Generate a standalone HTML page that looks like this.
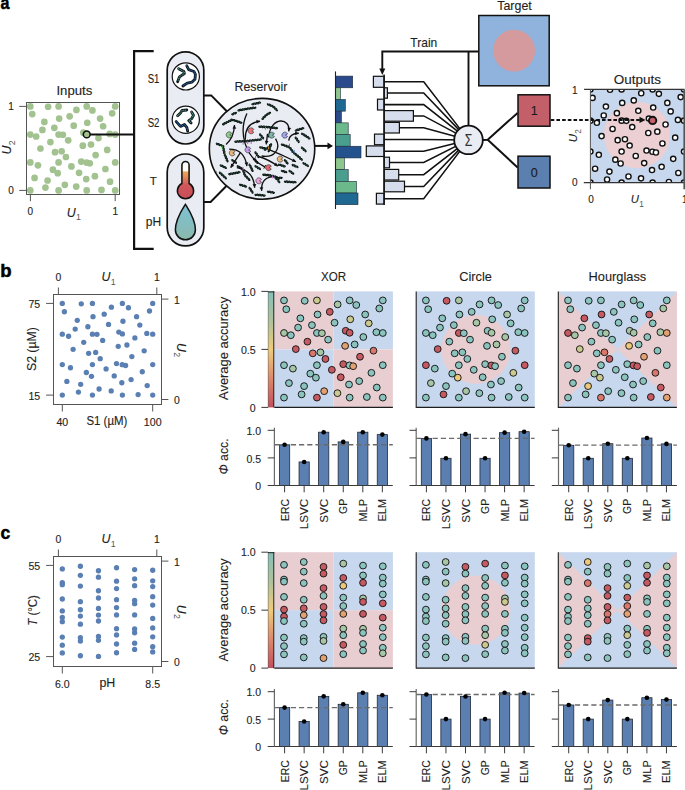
<!DOCTYPE html>
<html><head><meta charset="utf-8"><style>
html,body{margin:0;padding:0;background:#fff;}
svg{display:block;font-family:"Liberation Sans", sans-serif;}
text{stroke:#1e1e1e;stroke-width:0.12px;}
</style></head><body>
<svg width="685" height="790" viewBox="0 0 685 790" font-family='"Liberation Sans", sans-serif'>
<rect width="685" height="790" fill="#fff"/>
<text x="0" y="0" font-size="18.5" font-weight="bold" fill="#000" style="stroke:#000;stroke-width:0.5px" transform="translate(0.6,9.4) scale(0.87,1)">a</text>
<text x="0.3" y="277.2" font-size="18.5" font-weight="bold" fill="#000" style="stroke:#000;stroke-width:0.5px">b</text>
<text x="0" y="0" font-size="18.5" font-weight="bold" fill="#000" style="stroke:#000;stroke-width:0.5px" transform="translate(0.5,539.2) scale(0.95,1)">c</text>
<rect x="53.5" y="294.5" width="108" height="110" fill="#fff" stroke="#555" stroke-width="1"/>
<circle cx="62.3" cy="303.4" r="2.65" fill="#5a7fb2" stroke="none" stroke-width="1"/>
<circle cx="81.25" cy="303.78" r="2.65" fill="#5a7fb2" stroke="none" stroke-width="1"/>
<circle cx="92.43" cy="303.4" r="2.65" fill="#5a7fb2" stroke="none" stroke-width="1"/>
<circle cx="122.38" cy="303.4" r="2.65" fill="#5a7fb2" stroke="none" stroke-width="1"/>
<circle cx="152.7" cy="303.4" r="2.65" fill="#5a7fb2" stroke="none" stroke-width="1"/>
<circle cx="111.39" cy="307.2" r="2.65" fill="#5a7fb2" stroke="none" stroke-width="1"/>
<circle cx="128.44" cy="307.77" r="2.65" fill="#5a7fb2" stroke="none" stroke-width="1"/>
<circle cx="64.38" cy="311.75" r="2.65" fill="#5a7fb2" stroke="none" stroke-width="1"/>
<circle cx="149.48" cy="310.99" r="2.65" fill="#5a7fb2" stroke="none" stroke-width="1"/>
<circle cx="104.18" cy="314.22" r="2.65" fill="#5a7fb2" stroke="none" stroke-width="1"/>
<circle cx="93" cy="316.69" r="2.65" fill="#5a7fb2" stroke="none" stroke-width="1"/>
<circle cx="136.59" cy="316.69" r="2.65" fill="#5a7fb2" stroke="none" stroke-width="1"/>
<circle cx="77.27" cy="320.3" r="2.65" fill="#5a7fb2" stroke="none" stroke-width="1"/>
<circle cx="122.95" cy="321.25" r="2.65" fill="#5a7fb2" stroke="none" stroke-width="1"/>
<circle cx="108.54" cy="324.47" r="2.65" fill="#5a7fb2" stroke="none" stroke-width="1"/>
<circle cx="139.81" cy="325.04" r="2.65" fill="#5a7fb2" stroke="none" stroke-width="1"/>
<circle cx="87.88" cy="326.75" r="2.65" fill="#5a7fb2" stroke="none" stroke-width="1"/>
<circle cx="75.19" cy="329.03" r="2.65" fill="#5a7fb2" stroke="none" stroke-width="1"/>
<circle cx="118.78" cy="332.07" r="2.65" fill="#5a7fb2" stroke="none" stroke-width="1"/>
<circle cx="122.38" cy="333.97" r="2.65" fill="#5a7fb2" stroke="none" stroke-width="1"/>
<circle cx="62.3" cy="334.16" r="2.65" fill="#5a7fb2" stroke="none" stroke-width="1"/>
<circle cx="68.55" cy="336.24" r="2.65" fill="#5a7fb2" stroke="none" stroke-width="1"/>
<circle cx="92.43" cy="334.16" r="2.65" fill="#5a7fb2" stroke="none" stroke-width="1"/>
<circle cx="96.98" cy="334.35" r="2.65" fill="#5a7fb2" stroke="none" stroke-width="1"/>
<circle cx="146.82" cy="333.4" r="2.65" fill="#5a7fb2" stroke="none" stroke-width="1"/>
<circle cx="152.7" cy="334.16" r="2.65" fill="#5a7fb2" stroke="none" stroke-width="1"/>
<circle cx="134.89" cy="337.95" r="2.65" fill="#5a7fb2" stroke="none" stroke-width="1"/>
<circle cx="102.67" cy="340.42" r="2.65" fill="#5a7fb2" stroke="none" stroke-width="1"/>
<circle cx="83.72" cy="342.32" r="2.65" fill="#5a7fb2" stroke="none" stroke-width="1"/>
<circle cx="118.21" cy="346.31" r="2.65" fill="#5a7fb2" stroke="none" stroke-width="1"/>
<circle cx="126.93" cy="344.98" r="2.65" fill="#5a7fb2" stroke="none" stroke-width="1"/>
<circle cx="73.1" cy="349.34" r="2.65" fill="#5a7fb2" stroke="none" stroke-width="1"/>
<circle cx="144.17" cy="350.86" r="2.65" fill="#5a7fb2" stroke="none" stroke-width="1"/>
<circle cx="88.64" cy="353.33" r="2.65" fill="#5a7fb2" stroke="none" stroke-width="1"/>
<circle cx="95.66" cy="352.38" r="2.65" fill="#5a7fb2" stroke="none" stroke-width="1"/>
<circle cx="100.2" cy="358.65" r="2.65" fill="#5a7fb2" stroke="none" stroke-width="1"/>
<circle cx="131.85" cy="356.56" r="2.65" fill="#5a7fb2" stroke="none" stroke-width="1"/>
<circle cx="62.3" cy="364.53" r="2.65" fill="#5a7fb2" stroke="none" stroke-width="1"/>
<circle cx="92.43" cy="364.53" r="2.65" fill="#5a7fb2" stroke="none" stroke-width="1"/>
<circle cx="116.5" cy="363.58" r="2.65" fill="#5a7fb2" stroke="none" stroke-width="1"/>
<circle cx="122.19" cy="364.72" r="2.65" fill="#5a7fb2" stroke="none" stroke-width="1"/>
<circle cx="125.6" cy="365.48" r="2.65" fill="#5a7fb2" stroke="none" stroke-width="1"/>
<circle cx="152.7" cy="364.53" r="2.65" fill="#5a7fb2" stroke="none" stroke-width="1"/>
<circle cx="70.45" cy="367.76" r="2.65" fill="#5a7fb2" stroke="none" stroke-width="1"/>
<circle cx="106.08" cy="368.9" r="2.65" fill="#5a7fb2" stroke="none" stroke-width="1"/>
<circle cx="86.37" cy="372.51" r="2.65" fill="#5a7fb2" stroke="none" stroke-width="1"/>
<circle cx="91.49" cy="376.3" r="2.65" fill="#5a7fb2" stroke="none" stroke-width="1"/>
<circle cx="142.28" cy="371.75" r="2.65" fill="#5a7fb2" stroke="none" stroke-width="1"/>
<circle cx="114.23" cy="375.92" r="2.65" fill="#5a7fb2" stroke="none" stroke-width="1"/>
<circle cx="66.85" cy="381.43" r="2.65" fill="#5a7fb2" stroke="none" stroke-width="1"/>
<circle cx="131.09" cy="379.53" r="2.65" fill="#5a7fb2" stroke="none" stroke-width="1"/>
<circle cx="121.81" cy="382.76" r="2.65" fill="#5a7fb2" stroke="none" stroke-width="1"/>
<circle cx="80.68" cy="384.28" r="2.65" fill="#5a7fb2" stroke="none" stroke-width="1"/>
<circle cx="147.2" cy="385.61" r="2.65" fill="#5a7fb2" stroke="none" stroke-width="1"/>
<circle cx="78.41" cy="392.06" r="2.65" fill="#5a7fb2" stroke="none" stroke-width="1"/>
<circle cx="99.07" cy="389.02" r="2.65" fill="#5a7fb2" stroke="none" stroke-width="1"/>
<circle cx="111.2" cy="390.92" r="2.65" fill="#5a7fb2" stroke="none" stroke-width="1"/>
<circle cx="62.3" cy="395.1" r="2.65" fill="#5a7fb2" stroke="none" stroke-width="1"/>
<circle cx="92.43" cy="395.1" r="2.65" fill="#5a7fb2" stroke="none" stroke-width="1"/>
<circle cx="122.38" cy="395.1" r="2.65" fill="#5a7fb2" stroke="none" stroke-width="1"/>
<circle cx="138.11" cy="394.53" r="2.65" fill="#5a7fb2" stroke="none" stroke-width="1"/>
<circle cx="152.7" cy="395.1" r="2.65" fill="#5a7fb2" stroke="none" stroke-width="1"/>
<line x1="58.4" y1="287.5" x2="58.4" y2="294.5" stroke="#555" stroke-width="1"/>
<text x="58.4" y="281.1" font-size="10.4" fill="#1e1e1e" text-anchor="middle">0</text>
<line x1="156.8" y1="287.5" x2="156.8" y2="294.5" stroke="#555" stroke-width="1"/>
<text x="156.8" y="281.1" font-size="10.4" fill="#1e1e1e" text-anchor="middle">1</text>
<g transform="translate(101.6,281.1)"><text x="0" y="0" font-size="12.4" fill="#1e1e1e" font-style="italic">U<tspan font-size="8.8" font-style="normal" fill="#555" style="stroke:none" dx="0.3" dy="3.7">1</tspan></text></g>
<line x1="46.1" y1="303.4" x2="53.5" y2="303.4" stroke="#555" stroke-width="1"/>
<text x="40.2" y="308" font-size="10.6" fill="#1e1e1e" text-anchor="end">75</text>
<line x1="46.1" y1="395.1" x2="53.5" y2="395.1" stroke="#555" stroke-width="1"/>
<text x="40.2" y="399.7" font-size="10.6" fill="#1e1e1e" text-anchor="end">15</text>
<line x1="62.3" y1="404.5" x2="62.3" y2="411.5" stroke="#555" stroke-width="1"/>
<text x="62.3" y="425.5" font-size="10.6" fill="#1e1e1e" text-anchor="middle">40</text>
<line x1="152.7" y1="404.5" x2="152.7" y2="411.5" stroke="#555" stroke-width="1"/>
<text x="152.7" y="425.5" font-size="10.6" fill="#1e1e1e" text-anchor="middle">100</text>
<line x1="161.5" y1="299.1" x2="168.4" y2="299.1" stroke="#555" stroke-width="1"/>
<text x="173.9" y="303.6" font-size="10.4" fill="#1e1e1e">1</text>
<line x1="161.5" y1="399.5" x2="168.4" y2="399.5" stroke="#555" stroke-width="1"/>
<text x="173.9" y="404" font-size="10.4" fill="#1e1e1e">0</text>
<text x="106.9" y="425.4" font-size="12.2" fill="#1e1e1e" text-anchor="middle" textLength="41" lengthAdjust="spacingAndGlyphs">S1 (µM)</text>
<text x="36.1" y="349.1" font-size="12.6" fill="#1e1e1e" text-anchor="middle" textLength="43.8" lengthAdjust="spacingAndGlyphs" transform="rotate(-90 36.1 349.1)">S2 (µM)</text>
<g transform="translate(177.4,343) rotate(90)"><text x="0" y="0" font-size="12.4" fill="#1e1e1e" font-style="italic">U<tspan font-size="8.8" font-style="normal" fill="#555" style="stroke:none" dx="0.3" dy="3.7">2</tspan></text></g>
<rect x="53.5" y="556.5" width="108" height="110" fill="#fff" stroke="#555" stroke-width="1"/>
<circle cx="62.3" cy="568.93" r="2.65" fill="#5a7fb2" stroke="none" stroke-width="1"/>
<circle cx="62.3" cy="582.7" r="2.65" fill="#5a7fb2" stroke="none" stroke-width="1"/>
<circle cx="62.3" cy="584.71" r="2.65" fill="#5a7fb2" stroke="none" stroke-width="1"/>
<circle cx="62.3" cy="598.99" r="2.65" fill="#5a7fb2" stroke="none" stroke-width="1"/>
<circle cx="62.3" cy="610.92" r="2.65" fill="#5a7fb2" stroke="none" stroke-width="1"/>
<circle cx="62.3" cy="617.47" r="2.65" fill="#5a7fb2" stroke="none" stroke-width="1"/>
<circle cx="62.3" cy="621.67" r="2.65" fill="#5a7fb2" stroke="none" stroke-width="1"/>
<circle cx="62.3" cy="637.12" r="2.65" fill="#5a7fb2" stroke="none" stroke-width="1"/>
<circle cx="62.3" cy="645.18" r="2.65" fill="#5a7fb2" stroke="none" stroke-width="1"/>
<circle cx="62.3" cy="652.9" r="2.65" fill="#5a7fb2" stroke="none" stroke-width="1"/>
<circle cx="80.38" cy="566.24" r="2.65" fill="#5a7fb2" stroke="none" stroke-width="1"/>
<circle cx="80.38" cy="575.31" r="2.65" fill="#5a7fb2" stroke="none" stroke-width="1"/>
<circle cx="80.38" cy="586.06" r="2.65" fill="#5a7fb2" stroke="none" stroke-width="1"/>
<circle cx="80.38" cy="601.68" r="2.65" fill="#5a7fb2" stroke="none" stroke-width="1"/>
<circle cx="80.38" cy="609.74" r="2.65" fill="#5a7fb2" stroke="none" stroke-width="1"/>
<circle cx="80.38" cy="616.12" r="2.65" fill="#5a7fb2" stroke="none" stroke-width="1"/>
<circle cx="80.38" cy="624.18" r="2.65" fill="#5a7fb2" stroke="none" stroke-width="1"/>
<circle cx="80.38" cy="637.62" r="2.65" fill="#5a7fb2" stroke="none" stroke-width="1"/>
<circle cx="80.38" cy="640.98" r="2.65" fill="#5a7fb2" stroke="none" stroke-width="1"/>
<circle cx="80.38" cy="655.76" r="2.65" fill="#5a7fb2" stroke="none" stroke-width="1"/>
<circle cx="98.46" cy="570.77" r="2.65" fill="#5a7fb2" stroke="none" stroke-width="1"/>
<circle cx="98.46" cy="577.16" r="2.65" fill="#5a7fb2" stroke="none" stroke-width="1"/>
<circle cx="98.46" cy="590.76" r="2.65" fill="#5a7fb2" stroke="none" stroke-width="1"/>
<circle cx="98.46" cy="597.98" r="2.65" fill="#5a7fb2" stroke="none" stroke-width="1"/>
<circle cx="98.46" cy="608.4" r="2.65" fill="#5a7fb2" stroke="none" stroke-width="1"/>
<circle cx="98.46" cy="615.11" r="2.65" fill="#5a7fb2" stroke="none" stroke-width="1"/>
<circle cx="98.46" cy="620.99" r="2.65" fill="#5a7fb2" stroke="none" stroke-width="1"/>
<circle cx="98.46" cy="636.45" r="2.65" fill="#5a7fb2" stroke="none" stroke-width="1"/>
<circle cx="98.46" cy="640.31" r="2.65" fill="#5a7fb2" stroke="none" stroke-width="1"/>
<circle cx="98.46" cy="656.43" r="2.65" fill="#5a7fb2" stroke="none" stroke-width="1"/>
<circle cx="116.54" cy="567.75" r="2.65" fill="#5a7fb2" stroke="none" stroke-width="1"/>
<circle cx="116.54" cy="581.19" r="2.65" fill="#5a7fb2" stroke="none" stroke-width="1"/>
<circle cx="116.54" cy="588.58" r="2.65" fill="#5a7fb2" stroke="none" stroke-width="1"/>
<circle cx="116.54" cy="599.66" r="2.65" fill="#5a7fb2" stroke="none" stroke-width="1"/>
<circle cx="116.54" cy="607.56" r="2.65" fill="#5a7fb2" stroke="none" stroke-width="1"/>
<circle cx="116.54" cy="614.95" r="2.65" fill="#5a7fb2" stroke="none" stroke-width="1"/>
<circle cx="116.54" cy="628.72" r="2.65" fill="#5a7fb2" stroke="none" stroke-width="1"/>
<circle cx="116.54" cy="634.93" r="2.65" fill="#5a7fb2" stroke="none" stroke-width="1"/>
<circle cx="116.54" cy="644" r="2.65" fill="#5a7fb2" stroke="none" stroke-width="1"/>
<circle cx="116.54" cy="652.74" r="2.65" fill="#5a7fb2" stroke="none" stroke-width="1"/>
<circle cx="134.62" cy="569.6" r="2.65" fill="#5a7fb2" stroke="none" stroke-width="1"/>
<circle cx="134.62" cy="578.84" r="2.65" fill="#5a7fb2" stroke="none" stroke-width="1"/>
<circle cx="134.62" cy="585.72" r="2.65" fill="#5a7fb2" stroke="none" stroke-width="1"/>
<circle cx="134.62" cy="600.33" r="2.65" fill="#5a7fb2" stroke="none" stroke-width="1"/>
<circle cx="134.62" cy="603.69" r="2.65" fill="#5a7fb2" stroke="none" stroke-width="1"/>
<circle cx="134.62" cy="614.95" r="2.65" fill="#5a7fb2" stroke="none" stroke-width="1"/>
<circle cx="134.62" cy="628.89" r="2.65" fill="#5a7fb2" stroke="none" stroke-width="1"/>
<circle cx="134.62" cy="632.75" r="2.65" fill="#5a7fb2" stroke="none" stroke-width="1"/>
<circle cx="134.62" cy="643.16" r="2.65" fill="#5a7fb2" stroke="none" stroke-width="1"/>
<circle cx="134.62" cy="649.38" r="2.65" fill="#5a7fb2" stroke="none" stroke-width="1"/>
<circle cx="152.7" cy="570.27" r="2.65" fill="#5a7fb2" stroke="none" stroke-width="1"/>
<circle cx="152.7" cy="580.85" r="2.65" fill="#5a7fb2" stroke="none" stroke-width="1"/>
<circle cx="152.7" cy="586.56" r="2.65" fill="#5a7fb2" stroke="none" stroke-width="1"/>
<circle cx="152.7" cy="596.64" r="2.65" fill="#5a7fb2" stroke="none" stroke-width="1"/>
<circle cx="152.7" cy="605.04" r="2.65" fill="#5a7fb2" stroke="none" stroke-width="1"/>
<circle cx="152.7" cy="618.47" r="2.65" fill="#5a7fb2" stroke="none" stroke-width="1"/>
<circle cx="152.7" cy="627.88" r="2.65" fill="#5a7fb2" stroke="none" stroke-width="1"/>
<circle cx="152.7" cy="636.78" r="2.65" fill="#5a7fb2" stroke="none" stroke-width="1"/>
<circle cx="152.7" cy="646.69" r="2.65" fill="#5a7fb2" stroke="none" stroke-width="1"/>
<circle cx="152.7" cy="651.9" r="2.65" fill="#5a7fb2" stroke="none" stroke-width="1"/>
<line x1="58.4" y1="549.5" x2="58.4" y2="556.5" stroke="#555" stroke-width="1"/>
<text x="58.4" y="543.1" font-size="10.4" fill="#1e1e1e" text-anchor="middle">0</text>
<line x1="156.8" y1="549.5" x2="156.8" y2="556.5" stroke="#555" stroke-width="1"/>
<text x="156.8" y="543.1" font-size="10.4" fill="#1e1e1e" text-anchor="middle">1</text>
<g transform="translate(101.6,543.1)"><text x="0" y="0" font-size="12.4" fill="#1e1e1e" font-style="italic">U<tspan font-size="8.8" font-style="normal" fill="#555" style="stroke:none" dx="0.3" dy="3.7">1</tspan></text></g>
<line x1="46.1" y1="565.4" x2="53.5" y2="565.4" stroke="#555" stroke-width="1"/>
<text x="40.2" y="570" font-size="10.6" fill="#1e1e1e" text-anchor="end">55</text>
<line x1="46.1" y1="656.6" x2="53.5" y2="656.6" stroke="#555" stroke-width="1"/>
<text x="40.2" y="661.2" font-size="10.6" fill="#1e1e1e" text-anchor="end">25</text>
<line x1="62.3" y1="666.5" x2="62.3" y2="673.5" stroke="#555" stroke-width="1"/>
<text x="62.3" y="687.5" font-size="10.6" fill="#1e1e1e" text-anchor="middle">6.0</text>
<line x1="152.7" y1="666.5" x2="152.7" y2="673.5" stroke="#555" stroke-width="1"/>
<text x="152.7" y="687.5" font-size="10.6" fill="#1e1e1e" text-anchor="middle">8.5</text>
<line x1="161.5" y1="561.1" x2="168.4" y2="561.1" stroke="#555" stroke-width="1"/>
<text x="173.9" y="565.6" font-size="10.4" fill="#1e1e1e">1</text>
<line x1="161.5" y1="661.5" x2="168.4" y2="661.5" stroke="#555" stroke-width="1"/>
<text x="173.9" y="666" font-size="10.4" fill="#1e1e1e">0</text>
<text x="107.3" y="687.2" font-size="12.4" fill="#1e1e1e" text-anchor="middle">pH</text>
<text x="37.4" y="610.4" font-size="12.4" fill="#2a2a2a" text-anchor="middle" textLength="30.7" lengthAdjust="spacingAndGlyphs" transform="rotate(-90 37.4 610.4)"><tspan font-style="italic">T</tspan> (°C)</text>
<g transform="translate(177.4,604.8) rotate(90)"><text x="0" y="0" font-size="12.4" fill="#1e1e1e" font-style="italic">U<tspan font-size="8.8" font-style="normal" fill="#555" style="stroke:none" dx="0.3" dy="3.7">2</tspan></text></g>
<text x="333.6" y="280.8" font-size="12.8" fill="#1e1e1e" text-anchor="middle" textLength="25.1" lengthAdjust="spacingAndGlyphs">XOR</text>
<text x="475.6" y="280.8" font-size="12.8" fill="#1e1e1e" text-anchor="middle">Circle</text>
<text x="617.4" y="280.8" font-size="12.8" fill="#1e1e1e" text-anchor="middle">Hourglass</text>
<clipPath id="c0"><rect x="274.3" y="291.4" width="118.6" height="116"/></clipPath>
<rect x="274.3" y="291.4" width="59.3" height="58" fill="#e9ced1" stroke="none" stroke-width="1"/>
<rect x="333.6" y="291.4" width="59.3" height="58" fill="#c6d7ee" stroke="none" stroke-width="1"/>
<rect x="274.3" y="349.4" width="59.3" height="58" fill="#c6d7ee" stroke="none" stroke-width="1"/>
<rect x="333.6" y="349.4" width="59.3" height="58" fill="#e9ced1" stroke="none" stroke-width="1"/>
<g clip-path="url(#c0)" stroke="#161616" stroke-width="0.95">
<circle cx="284" cy="300.4" r="3.4" fill="#8bc4bf"/>
<circle cx="304.71" cy="300.8" r="3.4" fill="#8bc4bf"/>
<circle cx="316.93" cy="300.4" r="3.4" fill="#ccc98f"/>
<circle cx="349.66" cy="300.4" r="3.4" fill="#8bc4bf"/>
<circle cx="382.8" cy="300.4" r="3.4" fill="#8bc4bf"/>
<circle cx="337.65" cy="304.42" r="3.4" fill="#a7c6a6"/>
<circle cx="356.29" cy="305.03" r="3.4" fill="#8bc4bf"/>
<circle cx="286.28" cy="309.25" r="3.4" fill="#8bc4bf"/>
<circle cx="379.28" cy="308.45" r="3.4" fill="#8bc4bf"/>
<circle cx="329.78" cy="311.87" r="3.4" fill="#c65961"/>
<circle cx="317.55" cy="314.49" r="3.4" fill="#8bc4bf"/>
<circle cx="365.19" cy="314.49" r="3.4" fill="#8bc4bf"/>
<circle cx="300.36" cy="318.31" r="3.4" fill="#8bc4bf"/>
<circle cx="350.28" cy="319.32" r="3.4" fill="#ccc98f"/>
<circle cx="334.54" cy="322.74" r="3.4" fill="#8bc4bf"/>
<circle cx="368.72" cy="323.34" r="3.4" fill="#ccc98f"/>
<circle cx="311.96" cy="325.15" r="3.4" fill="#8bc4bf"/>
<circle cx="298.08" cy="327.57" r="3.4" fill="#8bc4bf"/>
<circle cx="345.72" cy="330.79" r="3.4" fill="#c65961"/>
<circle cx="349.66" cy="332.8" r="3.4" fill="#c65961"/>
<circle cx="284" cy="333" r="3.4" fill="#a7c6a6"/>
<circle cx="290.84" cy="335.21" r="3.4" fill="#8bc4bf"/>
<circle cx="316.93" cy="333" r="3.4" fill="#8bc4bf"/>
<circle cx="321.9" cy="333.2" r="3.4" fill="#a7c6a6"/>
<circle cx="376.38" cy="332.2" r="3.4" fill="#8bc4bf"/>
<circle cx="382.8" cy="333" r="3.4" fill="#8bc4bf"/>
<circle cx="363.33" cy="337.03" r="3.4" fill="#8bc4bf"/>
<circle cx="328.12" cy="339.64" r="3.4" fill="#8bc4bf"/>
<circle cx="307.41" cy="341.65" r="3.4" fill="#c65961"/>
<circle cx="345.1" cy="345.88" r="3.4" fill="#e3a070"/>
<circle cx="354.63" cy="344.47" r="3.4" fill="#8bc4bf"/>
<circle cx="295.81" cy="349.1" r="3.4" fill="#c65961"/>
<circle cx="373.48" cy="350.71" r="3.4" fill="#da776a"/>
<circle cx="312.79" cy="353.33" r="3.4" fill="#da776a"/>
<circle cx="320.45" cy="352.32" r="3.4" fill="#a7c6a6"/>
<circle cx="325.43" cy="358.96" r="3.4" fill="#c65961"/>
<circle cx="360.02" cy="356.75" r="3.4" fill="#c65961"/>
<circle cx="284" cy="365.2" r="3.4" fill="#8bc4bf"/>
<circle cx="316.93" cy="365.2" r="3.4" fill="#8bc4bf"/>
<circle cx="343.24" cy="364.19" r="3.4" fill="#c65961"/>
<circle cx="349.45" cy="365.4" r="3.4" fill="#8bc4bf"/>
<circle cx="353.18" cy="366.21" r="3.4" fill="#e3a070"/>
<circle cx="382.8" cy="365.2" r="3.4" fill="#8bc4bf"/>
<circle cx="292.91" cy="368.62" r="3.4" fill="#a7c6a6"/>
<circle cx="331.85" cy="369.83" r="3.4" fill="#c65961"/>
<circle cx="310.31" cy="373.65" r="3.4" fill="#8bc4bf"/>
<circle cx="315.9" cy="377.68" r="3.4" fill="#8bc4bf"/>
<circle cx="371.41" cy="372.85" r="3.4" fill="#8bc4bf"/>
<circle cx="340.75" cy="377.27" r="3.4" fill="#c65961"/>
<circle cx="288.97" cy="383.11" r="3.4" fill="#8bc4bf"/>
<circle cx="359.19" cy="381.1" r="3.4" fill="#8bc4bf"/>
<circle cx="349.04" cy="384.52" r="3.4" fill="#8bc4bf"/>
<circle cx="304.09" cy="386.13" r="3.4" fill="#8bc4bf"/>
<circle cx="376.79" cy="387.54" r="3.4" fill="#8bc4bf"/>
<circle cx="301.61" cy="394.38" r="3.4" fill="#8bc4bf"/>
<circle cx="324.18" cy="391.16" r="3.4" fill="#e3a070"/>
<circle cx="337.44" cy="393.17" r="3.4" fill="#ccc98f"/>
<circle cx="284" cy="397.6" r="3.4" fill="#8bc4bf"/>
<circle cx="316.93" cy="397.6" r="3.4" fill="#c65961"/>
<circle cx="349.66" cy="397.6" r="3.4" fill="#8bc4bf"/>
<circle cx="366.85" cy="397" r="3.4" fill="#8bc4bf"/>
<circle cx="382.8" cy="397.6" r="3.4" fill="#8bc4bf"/>
</g>
<line x1="274.3" y1="407.4" x2="392.9" y2="407.4" stroke="#1e1e1e" stroke-width="1.1"/>
<clipPath id="c1"><rect x="416.2" y="291.4" width="118.6" height="116"/></clipPath>
<rect x="416.2" y="291.4" width="118.6" height="116" fill="#c6d7ee" stroke="none" stroke-width="1"/>
<circle cx="476" cy="349.4" r="34.6" fill="#e9ced1" stroke="none" stroke-width="1"/>
<g clip-path="url(#c1)" stroke="#161616" stroke-width="0.95">
<circle cx="425.9" cy="300.4" r="3.4" fill="#8bc4bf"/>
<circle cx="446.61" cy="300.8" r="3.4" fill="#c65961"/>
<circle cx="458.83" cy="300.4" r="3.4" fill="#a7c6a6"/>
<circle cx="491.56" cy="300.4" r="3.4" fill="#8bc4bf"/>
<circle cx="524.7" cy="300.4" r="3.4" fill="#8bc4bf"/>
<circle cx="479.55" cy="304.42" r="3.4" fill="#8bc4bf"/>
<circle cx="498.19" cy="305.03" r="3.4" fill="#8bc4bf"/>
<circle cx="428.18" cy="309.25" r="3.4" fill="#8bc4bf"/>
<circle cx="521.18" cy="308.45" r="3.4" fill="#8bc4bf"/>
<circle cx="471.68" cy="311.87" r="3.4" fill="#8bc4bf"/>
<circle cx="459.45" cy="314.49" r="3.4" fill="#8bc4bf"/>
<circle cx="507.09" cy="314.49" r="3.4" fill="#a7c6a6"/>
<circle cx="442.26" cy="318.31" r="3.4" fill="#8bc4bf"/>
<circle cx="492.18" cy="319.32" r="3.4" fill="#8bc4bf"/>
<circle cx="476.44" cy="322.74" r="3.4" fill="#a7c6a6"/>
<circle cx="510.62" cy="323.34" r="3.4" fill="#8bc4bf"/>
<circle cx="453.86" cy="325.15" r="3.4" fill="#8bc4bf"/>
<circle cx="439.98" cy="327.57" r="3.4" fill="#8bc4bf"/>
<circle cx="487.62" cy="330.79" r="3.4" fill="#8bc4bf"/>
<circle cx="491.56" cy="332.8" r="3.4" fill="#a7c6a6"/>
<circle cx="425.9" cy="333" r="3.4" fill="#8bc4bf"/>
<circle cx="432.74" cy="335.21" r="3.4" fill="#8bc4bf"/>
<circle cx="458.83" cy="333" r="3.4" fill="#c65961"/>
<circle cx="463.8" cy="333.2" r="3.4" fill="#8bc4bf"/>
<circle cx="518.28" cy="332.2" r="3.4" fill="#8bc4bf"/>
<circle cx="524.7" cy="333" r="3.4" fill="#8bc4bf"/>
<circle cx="505.23" cy="337.03" r="3.4" fill="#a7c6a6"/>
<circle cx="470.02" cy="339.64" r="3.4" fill="#8bc4bf"/>
<circle cx="449.31" cy="341.65" r="3.4" fill="#8bc4bf"/>
<circle cx="487" cy="345.88" r="3.4" fill="#8bc4bf"/>
<circle cx="496.53" cy="344.47" r="3.4" fill="#a7c6a6"/>
<circle cx="437.71" cy="349.1" r="3.4" fill="#c65961"/>
<circle cx="515.38" cy="350.71" r="3.4" fill="#c65961"/>
<circle cx="454.69" cy="353.33" r="3.4" fill="#8bc4bf"/>
<circle cx="462.35" cy="352.32" r="3.4" fill="#8bc4bf"/>
<circle cx="467.33" cy="358.96" r="3.4" fill="#8bc4bf"/>
<circle cx="501.92" cy="356.75" r="3.4" fill="#8bc4bf"/>
<circle cx="425.9" cy="365.2" r="3.4" fill="#c65961"/>
<circle cx="458.83" cy="365.2" r="3.4" fill="#8bc4bf"/>
<circle cx="485.14" cy="364.19" r="3.4" fill="#8bc4bf"/>
<circle cx="491.35" cy="365.4" r="3.4" fill="#c65961"/>
<circle cx="495.08" cy="366.21" r="3.4" fill="#8bc4bf"/>
<circle cx="524.7" cy="365.2" r="3.4" fill="#c65961"/>
<circle cx="434.81" cy="368.62" r="3.4" fill="#8bc4bf"/>
<circle cx="473.75" cy="369.83" r="3.4" fill="#8bc4bf"/>
<circle cx="452.21" cy="373.65" r="3.4" fill="#8bc4bf"/>
<circle cx="457.8" cy="377.68" r="3.4" fill="#ecc97a"/>
<circle cx="513.31" cy="372.85" r="3.4" fill="#ccc98f"/>
<circle cx="482.65" cy="377.27" r="3.4" fill="#8bc4bf"/>
<circle cx="430.87" cy="383.11" r="3.4" fill="#a7c6a6"/>
<circle cx="501.09" cy="381.1" r="3.4" fill="#8bc4bf"/>
<circle cx="490.94" cy="384.52" r="3.4" fill="#8bc4bf"/>
<circle cx="445.99" cy="386.13" r="3.4" fill="#8bc4bf"/>
<circle cx="518.69" cy="387.54" r="3.4" fill="#8bc4bf"/>
<circle cx="443.51" cy="394.38" r="3.4" fill="#c65961"/>
<circle cx="466.08" cy="391.16" r="3.4" fill="#a7c6a6"/>
<circle cx="479.34" cy="393.17" r="3.4" fill="#8bc4bf"/>
<circle cx="425.9" cy="397.6" r="3.4" fill="#8bc4bf"/>
<circle cx="458.83" cy="397.6" r="3.4" fill="#8bc4bf"/>
<circle cx="491.56" cy="397.6" r="3.4" fill="#8bc4bf"/>
<circle cx="508.75" cy="397" r="3.4" fill="#8bc4bf"/>
<circle cx="524.7" cy="397.6" r="3.4" fill="#8bc4bf"/>
</g>
<line x1="416.2" y1="407.4" x2="534.8" y2="407.4" stroke="#1e1e1e" stroke-width="1.1"/>
<line x1="416.2" y1="291.4" x2="416.2" y2="407.9" stroke="#1e1e1e" stroke-width="1.1"/>
<clipPath id="c2"><rect x="558.3" y="291.4" width="118.6" height="116"/></clipPath>
<rect x="558.3" y="291.4" width="118.6" height="116" fill="#c6d7ee" stroke="none" stroke-width="1"/>
<path d="M558.3,291.4 L617.6,349.4 L558.3,407.4 Z" fill="#e9ced1" stroke="none" stroke-width="0"/>
<path d="M676.9,291.4 L617.6,349.4 L676.9,407.4 Z" fill="#e9ced1" stroke="none" stroke-width="0"/>
<g clip-path="url(#c2)" stroke="#161616" stroke-width="0.95">
<circle cx="568" cy="300.4" r="3.4" fill="#8bc4bf"/>
<circle cx="588.71" cy="300.8" r="3.4" fill="#8bc4bf"/>
<circle cx="600.93" cy="300.4" r="3.4" fill="#8bc4bf"/>
<circle cx="633.66" cy="300.4" r="3.4" fill="#8bc4bf"/>
<circle cx="666.8" cy="300.4" r="3.4" fill="#8bc4bf"/>
<circle cx="621.65" cy="304.42" r="3.4" fill="#8bc4bf"/>
<circle cx="640.29" cy="305.03" r="3.4" fill="#8bc4bf"/>
<circle cx="570.28" cy="309.25" r="3.4" fill="#8bc4bf"/>
<circle cx="663.28" cy="308.45" r="3.4" fill="#a7c6a6"/>
<circle cx="613.78" cy="311.87" r="3.4" fill="#8bc4bf"/>
<circle cx="601.55" cy="314.49" r="3.4" fill="#c65961"/>
<circle cx="649.19" cy="314.49" r="3.4" fill="#c65961"/>
<circle cx="584.36" cy="318.31" r="3.4" fill="#c65961"/>
<circle cx="634.28" cy="319.32" r="3.4" fill="#8bc4bf"/>
<circle cx="618.54" cy="322.74" r="3.4" fill="#8bc4bf"/>
<circle cx="652.72" cy="323.34" r="3.4" fill="#8bc4bf"/>
<circle cx="595.96" cy="325.15" r="3.4" fill="#8bc4bf"/>
<circle cx="582.08" cy="327.57" r="3.4" fill="#8bc4bf"/>
<circle cx="629.72" cy="330.79" r="3.4" fill="#a7c6a6"/>
<circle cx="633.66" cy="332.8" r="3.4" fill="#a7c6a6"/>
<circle cx="568" cy="333" r="3.4" fill="#c65961"/>
<circle cx="574.84" cy="335.21" r="3.4" fill="#a7c6a6"/>
<circle cx="600.93" cy="333" r="3.4" fill="#8bc4bf"/>
<circle cx="605.9" cy="333.2" r="3.4" fill="#a7c6a6"/>
<circle cx="660.38" cy="332.2" r="3.4" fill="#a7c6a6"/>
<circle cx="666.8" cy="333" r="3.4" fill="#e3a070"/>
<circle cx="647.33" cy="337.03" r="3.4" fill="#8bc4bf"/>
<circle cx="612.12" cy="339.64" r="3.4" fill="#8bc4bf"/>
<circle cx="591.41" cy="341.65" r="3.4" fill="#8bc4bf"/>
<circle cx="629.1" cy="345.88" r="3.4" fill="#ecc97a"/>
<circle cx="638.63" cy="344.47" r="3.4" fill="#8bc4bf"/>
<circle cx="579.81" cy="349.1" r="3.4" fill="#ccc98f"/>
<circle cx="657.48" cy="350.71" r="3.4" fill="#8bc4bf"/>
<circle cx="596.79" cy="353.33" r="3.4" fill="#8bc4bf"/>
<circle cx="604.45" cy="352.32" r="3.4" fill="#da776a"/>
<circle cx="609.43" cy="358.96" r="3.4" fill="#c65961"/>
<circle cx="644.02" cy="356.75" r="3.4" fill="#e3a070"/>
<circle cx="568" cy="365.2" r="3.4" fill="#8bc4bf"/>
<circle cx="600.93" cy="365.2" r="3.4" fill="#8bc4bf"/>
<circle cx="627.24" cy="364.19" r="3.4" fill="#8bc4bf"/>
<circle cx="633.45" cy="365.4" r="3.4" fill="#c65961"/>
<circle cx="637.18" cy="366.21" r="3.4" fill="#c65961"/>
<circle cx="666.8" cy="365.2" r="3.4" fill="#8bc4bf"/>
<circle cx="576.91" cy="368.62" r="3.4" fill="#8bc4bf"/>
<circle cx="615.85" cy="369.83" r="3.4" fill="#8bc4bf"/>
<circle cx="594.31" cy="373.65" r="3.4" fill="#a7c6a6"/>
<circle cx="599.9" cy="377.68" r="3.4" fill="#ccc98f"/>
<circle cx="655.41" cy="372.85" r="3.4" fill="#da776a"/>
<circle cx="624.75" cy="377.27" r="3.4" fill="#8bc4bf"/>
<circle cx="572.97" cy="383.11" r="3.4" fill="#8bc4bf"/>
<circle cx="643.19" cy="381.1" r="3.4" fill="#8bc4bf"/>
<circle cx="633.04" cy="384.52" r="3.4" fill="#8bc4bf"/>
<circle cx="588.09" cy="386.13" r="3.4" fill="#ecc97a"/>
<circle cx="660.79" cy="387.54" r="3.4" fill="#c65961"/>
<circle cx="585.61" cy="394.38" r="3.4" fill="#8bc4bf"/>
<circle cx="608.18" cy="391.16" r="3.4" fill="#8bc4bf"/>
<circle cx="621.44" cy="393.17" r="3.4" fill="#8bc4bf"/>
<circle cx="568" cy="397.6" r="3.4" fill="#8bc4bf"/>
<circle cx="600.93" cy="397.6" r="3.4" fill="#da776a"/>
<circle cx="633.66" cy="397.6" r="3.4" fill="#8bc4bf"/>
<circle cx="650.85" cy="397" r="3.4" fill="#c65961"/>
<circle cx="666.8" cy="397.6" r="3.4" fill="#e3a070"/>
</g>
<line x1="558.3" y1="407.4" x2="676.9" y2="407.4" stroke="#1e1e1e" stroke-width="1.1"/>
<line x1="558.3" y1="291.4" x2="558.3" y2="407.9" stroke="#1e1e1e" stroke-width="1.1"/>
<defs><linearGradient id="cbg291" x1="0" y1="1" x2="0" y2="0"><stop offset="0" stop-color="#c24f5c"/><stop offset="0.25" stop-color="#dc8a6c"/><stop offset="0.5" stop-color="#eecb7a"/><stop offset="0.75" stop-color="#aec29c"/><stop offset="1" stop-color="#86c0b8"/></linearGradient></defs>
<rect x="268" y="291.4" width="6" height="116" fill="url(#cbg291)" stroke="none" stroke-width="1"/>
<line x1="268.2" y1="291.4" x2="268.2" y2="407.4" stroke="#555" stroke-width="0.5"/>
<line x1="268" y1="291.9" x2="274.3" y2="291.9" stroke="#1e1e1e" stroke-width="1"/>
<line x1="273.8" y1="291.4" x2="273.8" y2="407.4" stroke="#1e1e1e" stroke-width="1"/>
<line x1="261.4" y1="291.4" x2="268" y2="291.4" stroke="#3a3a3a" stroke-width="1"/>
<text x="255.7" y="295.5" font-size="10.6" fill="#1e1e1e" text-anchor="end">1.0</text>
<line x1="261.4" y1="349.4" x2="268" y2="349.4" stroke="#3a3a3a" stroke-width="1"/>
<text x="255.7" y="353.5" font-size="10.6" fill="#1e1e1e" text-anchor="end">0.5</text>
<line x1="261.4" y1="407.4" x2="268" y2="407.4" stroke="#3a3a3a" stroke-width="1"/>
<text x="255.7" y="411.5" font-size="10.6" fill="#1e1e1e" text-anchor="end">0</text>
<text x="227.9" y="348.4" font-size="12.9" fill="#1e1e1e" text-anchor="middle" textLength="103" lengthAdjust="spacingAndGlyphs" transform="rotate(-90 227.9 348.4)">Average accuracy</text>
<clipPath id="c3"><rect x="274.3" y="552.2" width="118.6" height="115.9"/></clipPath>
<rect x="274.3" y="552.2" width="59.3" height="57.95" fill="#e9ced1" stroke="none" stroke-width="1"/>
<rect x="333.6" y="552.2" width="59.3" height="57.95" fill="#c6d7ee" stroke="none" stroke-width="1"/>
<rect x="274.3" y="610.15" width="59.3" height="57.95" fill="#c6d7ee" stroke="none" stroke-width="1"/>
<rect x="333.6" y="610.15" width="59.3" height="57.95" fill="#e9ced1" stroke="none" stroke-width="1"/>
<g clip-path="url(#c3)" stroke="#161616" stroke-width="0.95">
<circle cx="284" cy="564.86" r="3.4" fill="#8bc4bf"/>
<circle cx="284" cy="579.54" r="3.4" fill="#8bc4bf"/>
<circle cx="284" cy="581.69" r="3.4" fill="#8bc4bf"/>
<circle cx="284" cy="596.9" r="3.4" fill="#8bc4bf"/>
<circle cx="284" cy="609.61" r="3.4" fill="#c65961"/>
<circle cx="284" cy="616.59" r="3.4" fill="#c65961"/>
<circle cx="284" cy="621.07" r="3.4" fill="#8bc4bf"/>
<circle cx="284" cy="637.54" r="3.4" fill="#8bc4bf"/>
<circle cx="284" cy="646.13" r="3.4" fill="#8bc4bf"/>
<circle cx="284" cy="654.36" r="3.4" fill="#8bc4bf"/>
<circle cx="303.76" cy="562" r="3.4" fill="#8bc4bf"/>
<circle cx="303.76" cy="571.66" r="3.4" fill="#8bc4bf"/>
<circle cx="303.76" cy="583.12" r="3.4" fill="#8bc4bf"/>
<circle cx="303.76" cy="599.77" r="3.4" fill="#8bc4bf"/>
<circle cx="303.76" cy="608.36" r="3.4" fill="#c65961"/>
<circle cx="303.76" cy="615.16" r="3.4" fill="#e3a070"/>
<circle cx="303.76" cy="623.75" r="3.4" fill="#8bc4bf"/>
<circle cx="303.76" cy="638.07" r="3.4" fill="#8bc4bf"/>
<circle cx="303.76" cy="641.65" r="3.4" fill="#8bc4bf"/>
<circle cx="303.76" cy="657.4" r="3.4" fill="#8bc4bf"/>
<circle cx="323.52" cy="566.83" r="3.4" fill="#c65961"/>
<circle cx="323.52" cy="573.63" r="3.4" fill="#c65961"/>
<circle cx="323.52" cy="588.13" r="3.4" fill="#c65961"/>
<circle cx="323.52" cy="595.83" r="3.4" fill="#8bc4bf"/>
<circle cx="323.52" cy="606.93" r="3.4" fill="#c65961"/>
<circle cx="323.52" cy="614.09" r="3.4" fill="#c65961"/>
<circle cx="323.52" cy="620.35" r="3.4" fill="#c65961"/>
<circle cx="323.52" cy="636.82" r="3.4" fill="#8bc4bf"/>
<circle cx="323.52" cy="640.94" r="3.4" fill="#a7c6a6"/>
<circle cx="323.52" cy="658.12" r="3.4" fill="#e3a070"/>
<circle cx="343.28" cy="563.61" r="3.4" fill="#a7c6a6"/>
<circle cx="343.28" cy="577.93" r="3.4" fill="#c65961"/>
<circle cx="343.28" cy="585.8" r="3.4" fill="#ecc97a"/>
<circle cx="343.28" cy="597.62" r="3.4" fill="#8bc4bf"/>
<circle cx="343.28" cy="606.03" r="3.4" fill="#8bc4bf"/>
<circle cx="343.28" cy="613.91" r="3.4" fill="#e3a070"/>
<circle cx="343.28" cy="628.59" r="3.4" fill="#a7c6a6"/>
<circle cx="343.28" cy="635.21" r="3.4" fill="#8bc4bf"/>
<circle cx="343.28" cy="644.87" r="3.4" fill="#c65961"/>
<circle cx="343.28" cy="654.18" r="3.4" fill="#8bc4bf"/>
<circle cx="363.04" cy="565.58" r="3.4" fill="#8bc4bf"/>
<circle cx="363.04" cy="575.42" r="3.4" fill="#8bc4bf"/>
<circle cx="363.04" cy="582.76" r="3.4" fill="#c65961"/>
<circle cx="363.04" cy="598.33" r="3.4" fill="#a7c6a6"/>
<circle cx="363.04" cy="601.91" r="3.4" fill="#c65961"/>
<circle cx="363.04" cy="613.91" r="3.4" fill="#c65961"/>
<circle cx="363.04" cy="628.76" r="3.4" fill="#a7c6a6"/>
<circle cx="363.04" cy="632.88" r="3.4" fill="#8bc4bf"/>
<circle cx="363.04" cy="643.98" r="3.4" fill="#8bc4bf"/>
<circle cx="363.04" cy="650.6" r="3.4" fill="#8bc4bf"/>
<circle cx="382.8" cy="566.29" r="3.4" fill="#8bc4bf"/>
<circle cx="382.8" cy="577.57" r="3.4" fill="#8bc4bf"/>
<circle cx="382.8" cy="583.65" r="3.4" fill="#8bc4bf"/>
<circle cx="382.8" cy="594.4" r="3.4" fill="#8bc4bf"/>
<circle cx="382.8" cy="603.35" r="3.4" fill="#c65961"/>
<circle cx="382.8" cy="617.67" r="3.4" fill="#c65961"/>
<circle cx="382.8" cy="627.69" r="3.4" fill="#8bc4bf"/>
<circle cx="382.8" cy="637.18" r="3.4" fill="#8bc4bf"/>
<circle cx="382.8" cy="647.74" r="3.4" fill="#8bc4bf"/>
<circle cx="382.8" cy="653.29" r="3.4" fill="#a7c6a6"/>
</g>
<line x1="274.3" y1="668.1" x2="392.9" y2="668.1" stroke="#1e1e1e" stroke-width="1.1"/>
<clipPath id="c4"><rect x="416.2" y="552.2" width="118.6" height="115.9"/></clipPath>
<rect x="416.2" y="552.2" width="118.6" height="115.9" fill="#c6d7ee" stroke="none" stroke-width="1"/>
<circle cx="476" cy="610.15" r="34.6" fill="#e9ced1" stroke="none" stroke-width="1"/>
<g clip-path="url(#c4)" stroke="#161616" stroke-width="0.95">
<circle cx="425.9" cy="564.86" r="3.4" fill="#8bc4bf"/>
<circle cx="425.9" cy="579.54" r="3.4" fill="#8bc4bf"/>
<circle cx="425.9" cy="581.69" r="3.4" fill="#8bc4bf"/>
<circle cx="425.9" cy="596.9" r="3.4" fill="#8bc4bf"/>
<circle cx="425.9" cy="609.61" r="3.4" fill="#8bc4bf"/>
<circle cx="425.9" cy="616.59" r="3.4" fill="#8bc4bf"/>
<circle cx="425.9" cy="621.07" r="3.4" fill="#8bc4bf"/>
<circle cx="425.9" cy="637.54" r="3.4" fill="#8bc4bf"/>
<circle cx="425.9" cy="646.13" r="3.4" fill="#8bc4bf"/>
<circle cx="425.9" cy="654.36" r="3.4" fill="#8bc4bf"/>
<circle cx="445.66" cy="562" r="3.4" fill="#a7c6a6"/>
<circle cx="445.66" cy="571.66" r="3.4" fill="#8bc4bf"/>
<circle cx="445.66" cy="583.12" r="3.4" fill="#a7c6a6"/>
<circle cx="445.66" cy="599.77" r="3.4" fill="#8bc4bf"/>
<circle cx="445.66" cy="608.36" r="3.4" fill="#8bc4bf"/>
<circle cx="445.66" cy="615.16" r="3.4" fill="#8bc4bf"/>
<circle cx="445.66" cy="623.75" r="3.4" fill="#8bc4bf"/>
<circle cx="445.66" cy="638.07" r="3.4" fill="#8bc4bf"/>
<circle cx="445.66" cy="641.65" r="3.4" fill="#8bc4bf"/>
<circle cx="445.66" cy="657.4" r="3.4" fill="#8bc4bf"/>
<circle cx="465.42" cy="566.83" r="3.4" fill="#c65961"/>
<circle cx="465.42" cy="573.63" r="3.4" fill="#8bc4bf"/>
<circle cx="465.42" cy="588.13" r="3.4" fill="#8bc4bf"/>
<circle cx="465.42" cy="595.83" r="3.4" fill="#8bc4bf"/>
<circle cx="465.42" cy="606.93" r="3.4" fill="#8bc4bf"/>
<circle cx="465.42" cy="614.09" r="3.4" fill="#8bc4bf"/>
<circle cx="465.42" cy="620.35" r="3.4" fill="#8bc4bf"/>
<circle cx="465.42" cy="636.82" r="3.4" fill="#8bc4bf"/>
<circle cx="465.42" cy="640.94" r="3.4" fill="#8bc4bf"/>
<circle cx="465.42" cy="658.12" r="3.4" fill="#8bc4bf"/>
<circle cx="485.18" cy="563.61" r="3.4" fill="#c65961"/>
<circle cx="485.18" cy="577.93" r="3.4" fill="#8bc4bf"/>
<circle cx="485.18" cy="585.8" r="3.4" fill="#8bc4bf"/>
<circle cx="485.18" cy="597.62" r="3.4" fill="#8bc4bf"/>
<circle cx="485.18" cy="606.03" r="3.4" fill="#8bc4bf"/>
<circle cx="485.18" cy="613.91" r="3.4" fill="#8bc4bf"/>
<circle cx="485.18" cy="628.59" r="3.4" fill="#8bc4bf"/>
<circle cx="485.18" cy="635.21" r="3.4" fill="#a7c6a6"/>
<circle cx="485.18" cy="644.87" r="3.4" fill="#ccc98f"/>
<circle cx="485.18" cy="654.18" r="3.4" fill="#8bc4bf"/>
<circle cx="504.94" cy="565.58" r="3.4" fill="#8bc4bf"/>
<circle cx="504.94" cy="575.42" r="3.4" fill="#c65961"/>
<circle cx="504.94" cy="582.76" r="3.4" fill="#8bc4bf"/>
<circle cx="504.94" cy="598.33" r="3.4" fill="#a7c6a6"/>
<circle cx="504.94" cy="601.91" r="3.4" fill="#ccc98f"/>
<circle cx="504.94" cy="613.91" r="3.4" fill="#8bc4bf"/>
<circle cx="504.94" cy="628.76" r="3.4" fill="#8bc4bf"/>
<circle cx="504.94" cy="632.88" r="3.4" fill="#8bc4bf"/>
<circle cx="504.94" cy="643.98" r="3.4" fill="#8bc4bf"/>
<circle cx="504.94" cy="650.6" r="3.4" fill="#8bc4bf"/>
<circle cx="524.7" cy="566.29" r="3.4" fill="#8bc4bf"/>
<circle cx="524.7" cy="577.57" r="3.4" fill="#8bc4bf"/>
<circle cx="524.7" cy="583.65" r="3.4" fill="#8bc4bf"/>
<circle cx="524.7" cy="594.4" r="3.4" fill="#8bc4bf"/>
<circle cx="524.7" cy="603.35" r="3.4" fill="#8bc4bf"/>
<circle cx="524.7" cy="617.67" r="3.4" fill="#8bc4bf"/>
<circle cx="524.7" cy="627.69" r="3.4" fill="#8bc4bf"/>
<circle cx="524.7" cy="637.18" r="3.4" fill="#8bc4bf"/>
<circle cx="524.7" cy="647.74" r="3.4" fill="#8bc4bf"/>
<circle cx="524.7" cy="653.29" r="3.4" fill="#8bc4bf"/>
</g>
<line x1="416.2" y1="668.1" x2="534.8" y2="668.1" stroke="#1e1e1e" stroke-width="1.1"/>
<line x1="416.2" y1="552.2" x2="416.2" y2="668.6" stroke="#1e1e1e" stroke-width="1.1"/>
<clipPath id="c5"><rect x="558.3" y="552.2" width="118.6" height="115.9"/></clipPath>
<rect x="558.3" y="552.2" width="118.6" height="115.9" fill="#c6d7ee" stroke="none" stroke-width="1"/>
<path d="M558.3,552.2 L617.6,610.15 L558.3,668.1 Z" fill="#e9ced1" stroke="none" stroke-width="0"/>
<path d="M676.9,552.2 L617.6,610.15 L676.9,668.1 Z" fill="#e9ced1" stroke="none" stroke-width="0"/>
<g clip-path="url(#c5)" stroke="#161616" stroke-width="0.95">
<circle cx="568" cy="564.86" r="3.4" fill="#8bc4bf"/>
<circle cx="568" cy="579.54" r="3.4" fill="#8bc4bf"/>
<circle cx="568" cy="581.69" r="3.4" fill="#8bc4bf"/>
<circle cx="568" cy="596.9" r="3.4" fill="#8bc4bf"/>
<circle cx="568" cy="609.61" r="3.4" fill="#8bc4bf"/>
<circle cx="568" cy="616.59" r="3.4" fill="#8bc4bf"/>
<circle cx="568" cy="621.07" r="3.4" fill="#8bc4bf"/>
<circle cx="568" cy="637.54" r="3.4" fill="#8bc4bf"/>
<circle cx="568" cy="646.13" r="3.4" fill="#8bc4bf"/>
<circle cx="568" cy="654.36" r="3.4" fill="#8bc4bf"/>
<circle cx="587.76" cy="562" r="3.4" fill="#ecc97a"/>
<circle cx="587.76" cy="571.66" r="3.4" fill="#8bc4bf"/>
<circle cx="587.76" cy="583.12" r="3.4" fill="#da776a"/>
<circle cx="587.76" cy="599.77" r="3.4" fill="#8bc4bf"/>
<circle cx="587.76" cy="608.36" r="3.4" fill="#8bc4bf"/>
<circle cx="587.76" cy="615.16" r="3.4" fill="#8bc4bf"/>
<circle cx="587.76" cy="623.75" r="3.4" fill="#8bc4bf"/>
<circle cx="587.76" cy="638.07" r="3.4" fill="#c65961"/>
<circle cx="587.76" cy="641.65" r="3.4" fill="#c65961"/>
<circle cx="587.76" cy="657.4" r="3.4" fill="#8bc4bf"/>
<circle cx="607.52" cy="566.83" r="3.4" fill="#8bc4bf"/>
<circle cx="607.52" cy="573.63" r="3.4" fill="#8bc4bf"/>
<circle cx="607.52" cy="588.13" r="3.4" fill="#c65961"/>
<circle cx="607.52" cy="595.83" r="3.4" fill="#c65961"/>
<circle cx="607.52" cy="606.93" r="3.4" fill="#c65961"/>
<circle cx="607.52" cy="614.09" r="3.4" fill="#da776a"/>
<circle cx="607.52" cy="620.35" r="3.4" fill="#c65961"/>
<circle cx="607.52" cy="636.82" r="3.4" fill="#8bc4bf"/>
<circle cx="607.52" cy="640.94" r="3.4" fill="#8bc4bf"/>
<circle cx="607.52" cy="658.12" r="3.4" fill="#8bc4bf"/>
<circle cx="627.28" cy="563.61" r="3.4" fill="#8bc4bf"/>
<circle cx="627.28" cy="577.93" r="3.4" fill="#8bc4bf"/>
<circle cx="627.28" cy="585.8" r="3.4" fill="#ccc98f"/>
<circle cx="627.28" cy="597.62" r="3.4" fill="#c65961"/>
<circle cx="627.28" cy="606.03" r="3.4" fill="#da776a"/>
<circle cx="627.28" cy="613.91" r="3.4" fill="#e3a070"/>
<circle cx="627.28" cy="628.59" r="3.4" fill="#8bc4bf"/>
<circle cx="627.28" cy="635.21" r="3.4" fill="#ccc98f"/>
<circle cx="627.28" cy="644.87" r="3.4" fill="#8bc4bf"/>
<circle cx="627.28" cy="654.18" r="3.4" fill="#8bc4bf"/>
<circle cx="647.04" cy="565.58" r="3.4" fill="#a7c6a6"/>
<circle cx="647.04" cy="575.42" r="3.4" fill="#c65961"/>
<circle cx="647.04" cy="582.76" r="3.4" fill="#c65961"/>
<circle cx="647.04" cy="598.33" r="3.4" fill="#8bc4bf"/>
<circle cx="647.04" cy="601.91" r="3.4" fill="#8bc4bf"/>
<circle cx="647.04" cy="613.91" r="3.4" fill="#8bc4bf"/>
<circle cx="647.04" cy="628.76" r="3.4" fill="#8bc4bf"/>
<circle cx="647.04" cy="632.88" r="3.4" fill="#c65961"/>
<circle cx="647.04" cy="643.98" r="3.4" fill="#8bc4bf"/>
<circle cx="647.04" cy="650.6" r="3.4" fill="#8bc4bf"/>
<circle cx="666.8" cy="566.29" r="3.4" fill="#a7c6a6"/>
<circle cx="666.8" cy="577.57" r="3.4" fill="#8bc4bf"/>
<circle cx="666.8" cy="583.65" r="3.4" fill="#8bc4bf"/>
<circle cx="666.8" cy="594.4" r="3.4" fill="#8bc4bf"/>
<circle cx="666.8" cy="603.35" r="3.4" fill="#8bc4bf"/>
<circle cx="666.8" cy="617.67" r="3.4" fill="#8bc4bf"/>
<circle cx="666.8" cy="627.69" r="3.4" fill="#8bc4bf"/>
<circle cx="666.8" cy="637.18" r="3.4" fill="#8bc4bf"/>
<circle cx="666.8" cy="647.74" r="3.4" fill="#8bc4bf"/>
<circle cx="666.8" cy="653.29" r="3.4" fill="#8bc4bf"/>
</g>
<line x1="558.3" y1="668.1" x2="676.9" y2="668.1" stroke="#1e1e1e" stroke-width="1.1"/>
<line x1="558.3" y1="552.2" x2="558.3" y2="668.6" stroke="#1e1e1e" stroke-width="1.1"/>
<defs><linearGradient id="cbg552" x1="0" y1="1" x2="0" y2="0"><stop offset="0" stop-color="#c24f5c"/><stop offset="0.25" stop-color="#dc8a6c"/><stop offset="0.5" stop-color="#eecb7a"/><stop offset="0.75" stop-color="#aec29c"/><stop offset="1" stop-color="#86c0b8"/></linearGradient></defs>
<rect x="268" y="552.2" width="6" height="115.9" fill="url(#cbg552)" stroke="none" stroke-width="1"/>
<line x1="268.2" y1="552.2" x2="268.2" y2="668.1" stroke="#555" stroke-width="0.5"/>
<line x1="268" y1="552.7" x2="274.3" y2="552.7" stroke="#1e1e1e" stroke-width="1"/>
<line x1="273.8" y1="552.2" x2="273.8" y2="668.1" stroke="#1e1e1e" stroke-width="1"/>
<line x1="261.4" y1="552.2" x2="268" y2="552.2" stroke="#3a3a3a" stroke-width="1"/>
<text x="255.7" y="556.3" font-size="10.6" fill="#1e1e1e" text-anchor="end">1.0</text>
<line x1="261.4" y1="610.15" x2="268" y2="610.15" stroke="#3a3a3a" stroke-width="1"/>
<text x="255.7" y="614.25" font-size="10.6" fill="#1e1e1e" text-anchor="end">0.5</text>
<line x1="261.4" y1="668.1" x2="268" y2="668.1" stroke="#3a3a3a" stroke-width="1"/>
<text x="255.7" y="672.2" font-size="10.6" fill="#1e1e1e" text-anchor="end">0</text>
<text x="227.9" y="610" font-size="12.9" fill="#1e1e1e" text-anchor="middle" textLength="103" lengthAdjust="spacingAndGlyphs" transform="rotate(-90 227.9 610)">Average accuracy</text>
<line x1="274.4" y1="427.7" x2="274.4" y2="485.5" stroke="#6a6a6a" stroke-width="1.2"/>
<line x1="267.7" y1="430.3" x2="274.4" y2="430.3" stroke="#3a3a3a" stroke-width="1"/>
<line x1="267.7" y1="457.9" x2="274.4" y2="457.9" stroke="#3a3a3a" stroke-width="1"/>
<line x1="267.7" y1="485.5" x2="274.4" y2="485.5" stroke="#3a3a3a" stroke-width="1"/>
<rect x="279.5" y="444.82" width="10.2" height="40.68" fill="#5b7fb0" stroke="#1e2a3a" stroke-width="0.8"/>
<rect x="299.05" y="461.93" width="10.2" height="23.57" fill="#5b7fb0" stroke="#1e2a3a" stroke-width="0.8"/>
<rect x="318.6" y="432.18" width="10.2" height="53.32" fill="#5b7fb0" stroke="#1e2a3a" stroke-width="0.8"/>
<rect x="338.15" y="441.89" width="10.2" height="43.61" fill="#5b7fb0" stroke="#1e2a3a" stroke-width="0.8"/>
<rect x="357.7" y="432.18" width="10.2" height="53.32" fill="#5b7fb0" stroke="#1e2a3a" stroke-width="0.8"/>
<rect x="377.25" y="434.61" width="10.2" height="50.89" fill="#5b7fb0" stroke="#1e2a3a" stroke-width="0.8"/>
<line x1="274.4" y1="485.5" x2="392.8" y2="485.5" stroke="#3a3a3a" stroke-width="1.1"/>
<line x1="284.6" y1="485.5" x2="284.6" y2="492.3" stroke="#3a3a3a" stroke-width="1"/>
<line x1="304.15" y1="485.5" x2="304.15" y2="492.3" stroke="#3a3a3a" stroke-width="1"/>
<line x1="323.7" y1="485.5" x2="323.7" y2="492.3" stroke="#3a3a3a" stroke-width="1"/>
<line x1="343.25" y1="485.5" x2="343.25" y2="492.3" stroke="#3a3a3a" stroke-width="1"/>
<line x1="362.8" y1="485.5" x2="362.8" y2="492.3" stroke="#3a3a3a" stroke-width="1"/>
<line x1="382.35" y1="485.5" x2="382.35" y2="492.3" stroke="#3a3a3a" stroke-width="1"/>
<line x1="274.4" y1="444.82" x2="392.8" y2="444.82" stroke="#6a6a6a" stroke-width="1.4" stroke-dasharray="5.2,3"/>
<circle cx="284.6" cy="444.82" r="2.3" fill="#000" stroke="none" stroke-width="1"/>
<circle cx="304.15" cy="461.93" r="2.3" fill="#000" stroke="none" stroke-width="1"/>
<circle cx="323.7" cy="432.18" r="2.3" fill="#000" stroke="none" stroke-width="1"/>
<circle cx="343.25" cy="441.89" r="2.3" fill="#000" stroke="none" stroke-width="1"/>
<circle cx="362.8" cy="432.18" r="2.3" fill="#000" stroke="none" stroke-width="1"/>
<circle cx="382.35" cy="434.61" r="2.3" fill="#000" stroke="none" stroke-width="1"/>
<text x="288.65" y="498.9" font-size="11.3" fill="#1e1e1e" text-anchor="end" textLength="22" lengthAdjust="spacingAndGlyphs" transform="rotate(-90 288.65 498.9)">ERC</text>
<text x="308.2" y="498.9" font-size="11.3" fill="#1e1e1e" text-anchor="end" textLength="30.3" lengthAdjust="spacingAndGlyphs" transform="rotate(-90 308.2 498.9)">LSVC</text>
<text x="327.75" y="498.9" font-size="11.3" fill="#1e1e1e" text-anchor="end" textLength="23.8" lengthAdjust="spacingAndGlyphs" transform="rotate(-90 327.75 498.9)">SVC</text>
<text x="347.3" y="498.9" font-size="11.3" fill="#1e1e1e" text-anchor="end" textLength="15" lengthAdjust="spacingAndGlyphs" transform="rotate(-90 347.3 498.9)">GP</text>
<text x="366.85" y="498.9" font-size="11.3" fill="#1e1e1e" text-anchor="end" textLength="22.7" lengthAdjust="spacingAndGlyphs" transform="rotate(-90 366.85 498.9)">MLP</text>
<text x="386.4" y="498.9" font-size="11.3" fill="#1e1e1e" text-anchor="end" textLength="22.7" lengthAdjust="spacingAndGlyphs" transform="rotate(-90 386.4 498.9)">ELM</text>
<line x1="416.2" y1="427.7" x2="416.2" y2="485.5" stroke="#6a6a6a" stroke-width="1.2"/>
<line x1="409.5" y1="430.3" x2="416.2" y2="430.3" stroke="#3a3a3a" stroke-width="1"/>
<line x1="409.5" y1="457.9" x2="416.2" y2="457.9" stroke="#3a3a3a" stroke-width="1"/>
<line x1="409.5" y1="485.5" x2="416.2" y2="485.5" stroke="#3a3a3a" stroke-width="1"/>
<rect x="421.3" y="438.41" width="10.2" height="47.09" fill="#5b7fb0" stroke="#1e2a3a" stroke-width="0.8"/>
<rect x="440.85" y="458.29" width="10.2" height="27.21" fill="#5b7fb0" stroke="#1e2a3a" stroke-width="0.8"/>
<rect x="460.4" y="434.16" width="10.2" height="51.34" fill="#5b7fb0" stroke="#1e2a3a" stroke-width="0.8"/>
<rect x="479.95" y="458.29" width="10.2" height="27.21" fill="#5b7fb0" stroke="#1e2a3a" stroke-width="0.8"/>
<rect x="499.5" y="432.67" width="10.2" height="52.83" fill="#5b7fb0" stroke="#1e2a3a" stroke-width="0.8"/>
<rect x="519.05" y="431.68" width="10.2" height="53.82" fill="#5b7fb0" stroke="#1e2a3a" stroke-width="0.8"/>
<line x1="416.2" y1="485.5" x2="534.6" y2="485.5" stroke="#3a3a3a" stroke-width="1.1"/>
<line x1="426.4" y1="485.5" x2="426.4" y2="492.3" stroke="#3a3a3a" stroke-width="1"/>
<line x1="445.95" y1="485.5" x2="445.95" y2="492.3" stroke="#3a3a3a" stroke-width="1"/>
<line x1="465.5" y1="485.5" x2="465.5" y2="492.3" stroke="#3a3a3a" stroke-width="1"/>
<line x1="485.05" y1="485.5" x2="485.05" y2="492.3" stroke="#3a3a3a" stroke-width="1"/>
<line x1="504.6" y1="485.5" x2="504.6" y2="492.3" stroke="#3a3a3a" stroke-width="1"/>
<line x1="524.15" y1="485.5" x2="524.15" y2="492.3" stroke="#3a3a3a" stroke-width="1"/>
<line x1="416.2" y1="438.41" x2="534.6" y2="438.41" stroke="#6a6a6a" stroke-width="1.4" stroke-dasharray="5.2,3"/>
<circle cx="426.4" cy="438.41" r="2.3" fill="#000" stroke="none" stroke-width="1"/>
<circle cx="445.95" cy="458.29" r="2.3" fill="#000" stroke="none" stroke-width="1"/>
<circle cx="465.5" cy="434.16" r="2.3" fill="#000" stroke="none" stroke-width="1"/>
<circle cx="485.05" cy="458.29" r="2.3" fill="#000" stroke="none" stroke-width="1"/>
<circle cx="504.6" cy="432.67" r="2.3" fill="#000" stroke="none" stroke-width="1"/>
<circle cx="524.15" cy="431.68" r="2.3" fill="#000" stroke="none" stroke-width="1"/>
<text x="430.45" y="498.9" font-size="11.3" fill="#1e1e1e" text-anchor="end" textLength="22" lengthAdjust="spacingAndGlyphs" transform="rotate(-90 430.45 498.9)">ERC</text>
<text x="450" y="498.9" font-size="11.3" fill="#1e1e1e" text-anchor="end" textLength="30.3" lengthAdjust="spacingAndGlyphs" transform="rotate(-90 450 498.9)">LSVC</text>
<text x="469.55" y="498.9" font-size="11.3" fill="#1e1e1e" text-anchor="end" textLength="23.8" lengthAdjust="spacingAndGlyphs" transform="rotate(-90 469.55 498.9)">SVC</text>
<text x="489.1" y="498.9" font-size="11.3" fill="#1e1e1e" text-anchor="end" textLength="15" lengthAdjust="spacingAndGlyphs" transform="rotate(-90 489.1 498.9)">GP</text>
<text x="508.65" y="498.9" font-size="11.3" fill="#1e1e1e" text-anchor="end" textLength="22.7" lengthAdjust="spacingAndGlyphs" transform="rotate(-90 508.65 498.9)">MLP</text>
<text x="528.2" y="498.9" font-size="11.3" fill="#1e1e1e" text-anchor="end" textLength="22.7" lengthAdjust="spacingAndGlyphs" transform="rotate(-90 528.2 498.9)">ELM</text>
<line x1="558.5" y1="427.7" x2="558.5" y2="485.5" stroke="#6a6a6a" stroke-width="1.2"/>
<line x1="551.8" y1="430.3" x2="558.5" y2="430.3" stroke="#3a3a3a" stroke-width="1"/>
<line x1="551.8" y1="457.9" x2="558.5" y2="457.9" stroke="#3a3a3a" stroke-width="1"/>
<line x1="551.8" y1="485.5" x2="558.5" y2="485.5" stroke="#3a3a3a" stroke-width="1"/>
<rect x="563.6" y="445.31" width="10.2" height="40.19" fill="#5b7fb0" stroke="#1e2a3a" stroke-width="0.8"/>
<rect x="583.15" y="458.29" width="10.2" height="27.21" fill="#5b7fb0" stroke="#1e2a3a" stroke-width="0.8"/>
<rect x="602.7" y="443.71" width="10.2" height="41.79" fill="#5b7fb0" stroke="#1e2a3a" stroke-width="0.8"/>
<rect x="622.25" y="458.29" width="10.2" height="27.21" fill="#5b7fb0" stroke="#1e2a3a" stroke-width="0.8"/>
<rect x="641.8" y="438.03" width="10.2" height="47.47" fill="#5b7fb0" stroke="#1e2a3a" stroke-width="0.8"/>
<rect x="661.35" y="443.88" width="10.2" height="41.62" fill="#5b7fb0" stroke="#1e2a3a" stroke-width="0.8"/>
<line x1="558.5" y1="485.5" x2="676.9" y2="485.5" stroke="#3a3a3a" stroke-width="1.1"/>
<line x1="568.7" y1="485.5" x2="568.7" y2="492.3" stroke="#3a3a3a" stroke-width="1"/>
<line x1="588.25" y1="485.5" x2="588.25" y2="492.3" stroke="#3a3a3a" stroke-width="1"/>
<line x1="607.8" y1="485.5" x2="607.8" y2="492.3" stroke="#3a3a3a" stroke-width="1"/>
<line x1="627.35" y1="485.5" x2="627.35" y2="492.3" stroke="#3a3a3a" stroke-width="1"/>
<line x1="646.9" y1="485.5" x2="646.9" y2="492.3" stroke="#3a3a3a" stroke-width="1"/>
<line x1="666.45" y1="485.5" x2="666.45" y2="492.3" stroke="#3a3a3a" stroke-width="1"/>
<line x1="558.5" y1="445.09" x2="676.9" y2="445.09" stroke="#6a6a6a" stroke-width="1.4" stroke-dasharray="5.2,3"/>
<circle cx="568.7" cy="445.31" r="2.3" fill="#000" stroke="none" stroke-width="1"/>
<circle cx="588.25" cy="458.29" r="2.3" fill="#000" stroke="none" stroke-width="1"/>
<circle cx="607.8" cy="443.71" r="2.3" fill="#000" stroke="none" stroke-width="1"/>
<circle cx="627.35" cy="458.29" r="2.3" fill="#000" stroke="none" stroke-width="1"/>
<circle cx="646.9" cy="438.03" r="2.3" fill="#000" stroke="none" stroke-width="1"/>
<circle cx="666.45" cy="443.88" r="2.3" fill="#000" stroke="none" stroke-width="1"/>
<text x="572.75" y="498.9" font-size="11.3" fill="#1e1e1e" text-anchor="end" textLength="22" lengthAdjust="spacingAndGlyphs" transform="rotate(-90 572.75 498.9)">ERC</text>
<text x="592.3" y="498.9" font-size="11.3" fill="#1e1e1e" text-anchor="end" textLength="30.3" lengthAdjust="spacingAndGlyphs" transform="rotate(-90 592.3 498.9)">LSVC</text>
<text x="611.85" y="498.9" font-size="11.3" fill="#1e1e1e" text-anchor="end" textLength="23.8" lengthAdjust="spacingAndGlyphs" transform="rotate(-90 611.85 498.9)">SVC</text>
<text x="631.4" y="498.9" font-size="11.3" fill="#1e1e1e" text-anchor="end" textLength="15" lengthAdjust="spacingAndGlyphs" transform="rotate(-90 631.4 498.9)">GP</text>
<text x="650.95" y="498.9" font-size="11.3" fill="#1e1e1e" text-anchor="end" textLength="22.7" lengthAdjust="spacingAndGlyphs" transform="rotate(-90 650.95 498.9)">MLP</text>
<text x="670.5" y="498.9" font-size="11.3" fill="#1e1e1e" text-anchor="end" textLength="22.7" lengthAdjust="spacingAndGlyphs" transform="rotate(-90 670.5 498.9)">ELM</text>
<text x="261" y="434.9" font-size="10.5" fill="#1e1e1e" text-anchor="end">1.0</text>
<text x="261" y="462.5" font-size="10.5" fill="#1e1e1e" text-anchor="end">0.5</text>
<text x="261" y="490.1" font-size="10.5" fill="#1e1e1e" text-anchor="end">0</text>
<line x1="274.4" y1="689.1" x2="274.4" y2="746.5" stroke="#6a6a6a" stroke-width="1.2"/>
<line x1="267.7" y1="691.7" x2="274.4" y2="691.7" stroke="#3a3a3a" stroke-width="1"/>
<line x1="267.7" y1="719.1" x2="274.4" y2="719.1" stroke="#3a3a3a" stroke-width="1"/>
<line x1="267.7" y1="746.5" x2="274.4" y2="746.5" stroke="#3a3a3a" stroke-width="1"/>
<rect x="279.5" y="707.59" width="10.2" height="38.91" fill="#5b7fb0" stroke="#1e2a3a" stroke-width="0.8"/>
<rect x="299.05" y="721.57" width="10.2" height="24.93" fill="#5b7fb0" stroke="#1e2a3a" stroke-width="0.8"/>
<rect x="318.6" y="696.36" width="10.2" height="50.14" fill="#5b7fb0" stroke="#1e2a3a" stroke-width="0.8"/>
<rect x="338.15" y="704.3" width="10.2" height="42.2" fill="#5b7fb0" stroke="#1e2a3a" stroke-width="0.8"/>
<rect x="357.7" y="692.8" width="10.2" height="53.7" fill="#5b7fb0" stroke="#1e2a3a" stroke-width="0.8"/>
<rect x="377.25" y="695.26" width="10.2" height="51.24" fill="#5b7fb0" stroke="#1e2a3a" stroke-width="0.8"/>
<line x1="274.4" y1="746.5" x2="392.8" y2="746.5" stroke="#3a3a3a" stroke-width="1.1"/>
<line x1="284.6" y1="746.5" x2="284.6" y2="753.3" stroke="#3a3a3a" stroke-width="1"/>
<line x1="304.15" y1="746.5" x2="304.15" y2="753.3" stroke="#3a3a3a" stroke-width="1"/>
<line x1="323.7" y1="746.5" x2="323.7" y2="753.3" stroke="#3a3a3a" stroke-width="1"/>
<line x1="343.25" y1="746.5" x2="343.25" y2="753.3" stroke="#3a3a3a" stroke-width="1"/>
<line x1="362.8" y1="746.5" x2="362.8" y2="753.3" stroke="#3a3a3a" stroke-width="1"/>
<line x1="382.35" y1="746.5" x2="382.35" y2="753.3" stroke="#3a3a3a" stroke-width="1"/>
<line x1="274.4" y1="707.59" x2="392.8" y2="707.59" stroke="#6a6a6a" stroke-width="1.4" stroke-dasharray="5.2,3"/>
<circle cx="284.6" cy="707.59" r="2.3" fill="#000" stroke="none" stroke-width="1"/>
<circle cx="304.15" cy="721.57" r="2.3" fill="#000" stroke="none" stroke-width="1"/>
<circle cx="323.7" cy="696.36" r="2.3" fill="#000" stroke="none" stroke-width="1"/>
<circle cx="343.25" cy="704.3" r="2.3" fill="#000" stroke="none" stroke-width="1"/>
<circle cx="362.8" cy="692.8" r="2.3" fill="#000" stroke="none" stroke-width="1"/>
<circle cx="382.35" cy="695.26" r="2.3" fill="#000" stroke="none" stroke-width="1"/>
<text x="288.65" y="760.2" font-size="11.3" fill="#1e1e1e" text-anchor="end" textLength="22" lengthAdjust="spacingAndGlyphs" transform="rotate(-90 288.65 760.2)">ERC</text>
<text x="308.2" y="760.2" font-size="11.3" fill="#1e1e1e" text-anchor="end" textLength="30.3" lengthAdjust="spacingAndGlyphs" transform="rotate(-90 308.2 760.2)">LSVC</text>
<text x="327.75" y="760.2" font-size="11.3" fill="#1e1e1e" text-anchor="end" textLength="23.8" lengthAdjust="spacingAndGlyphs" transform="rotate(-90 327.75 760.2)">SVC</text>
<text x="347.3" y="760.2" font-size="11.3" fill="#1e1e1e" text-anchor="end" textLength="15" lengthAdjust="spacingAndGlyphs" transform="rotate(-90 347.3 760.2)">GP</text>
<text x="366.85" y="760.2" font-size="11.3" fill="#1e1e1e" text-anchor="end" textLength="22.7" lengthAdjust="spacingAndGlyphs" transform="rotate(-90 366.85 760.2)">MLP</text>
<text x="386.4" y="760.2" font-size="11.3" fill="#1e1e1e" text-anchor="end" textLength="22.7" lengthAdjust="spacingAndGlyphs" transform="rotate(-90 386.4 760.2)">ELM</text>
<line x1="416.2" y1="689.1" x2="416.2" y2="746.5" stroke="#6a6a6a" stroke-width="1.2"/>
<line x1="409.5" y1="691.7" x2="416.2" y2="691.7" stroke="#3a3a3a" stroke-width="1"/>
<line x1="409.5" y1="719.1" x2="416.2" y2="719.1" stroke="#3a3a3a" stroke-width="1"/>
<line x1="409.5" y1="746.5" x2="416.2" y2="746.5" stroke="#3a3a3a" stroke-width="1"/>
<rect x="421.3" y="694.55" width="10.2" height="51.95" fill="#5b7fb0" stroke="#1e2a3a" stroke-width="0.8"/>
<rect x="440.85" y="719.1" width="10.2" height="27.4" fill="#5b7fb0" stroke="#1e2a3a" stroke-width="0.8"/>
<rect x="460.4" y="696.52" width="10.2" height="49.98" fill="#5b7fb0" stroke="#1e2a3a" stroke-width="0.8"/>
<rect x="479.95" y="719.1" width="10.2" height="27.4" fill="#5b7fb0" stroke="#1e2a3a" stroke-width="0.8"/>
<rect x="499.5" y="692.8" width="10.2" height="53.7" fill="#5b7fb0" stroke="#1e2a3a" stroke-width="0.8"/>
<rect x="519.05" y="693.07" width="10.2" height="53.43" fill="#5b7fb0" stroke="#1e2a3a" stroke-width="0.8"/>
<line x1="416.2" y1="746.5" x2="534.6" y2="746.5" stroke="#3a3a3a" stroke-width="1.1"/>
<line x1="426.4" y1="746.5" x2="426.4" y2="753.3" stroke="#3a3a3a" stroke-width="1"/>
<line x1="445.95" y1="746.5" x2="445.95" y2="753.3" stroke="#3a3a3a" stroke-width="1"/>
<line x1="465.5" y1="746.5" x2="465.5" y2="753.3" stroke="#3a3a3a" stroke-width="1"/>
<line x1="485.05" y1="746.5" x2="485.05" y2="753.3" stroke="#3a3a3a" stroke-width="1"/>
<line x1="504.6" y1="746.5" x2="504.6" y2="753.3" stroke="#3a3a3a" stroke-width="1"/>
<line x1="524.15" y1="746.5" x2="524.15" y2="753.3" stroke="#3a3a3a" stroke-width="1"/>
<line x1="416.2" y1="694.55" x2="534.6" y2="694.55" stroke="#6a6a6a" stroke-width="1.4" stroke-dasharray="5.2,3"/>
<circle cx="426.4" cy="694.55" r="2.3" fill="#000" stroke="none" stroke-width="1"/>
<circle cx="445.95" cy="719.1" r="2.3" fill="#000" stroke="none" stroke-width="1"/>
<circle cx="465.5" cy="696.52" r="2.3" fill="#000" stroke="none" stroke-width="1"/>
<circle cx="485.05" cy="719.1" r="2.3" fill="#000" stroke="none" stroke-width="1"/>
<circle cx="504.6" cy="692.8" r="2.3" fill="#000" stroke="none" stroke-width="1"/>
<circle cx="524.15" cy="693.07" r="2.3" fill="#000" stroke="none" stroke-width="1"/>
<text x="430.45" y="760.2" font-size="11.3" fill="#1e1e1e" text-anchor="end" textLength="22" lengthAdjust="spacingAndGlyphs" transform="rotate(-90 430.45 760.2)">ERC</text>
<text x="450" y="760.2" font-size="11.3" fill="#1e1e1e" text-anchor="end" textLength="30.3" lengthAdjust="spacingAndGlyphs" transform="rotate(-90 450 760.2)">LSVC</text>
<text x="469.55" y="760.2" font-size="11.3" fill="#1e1e1e" text-anchor="end" textLength="23.8" lengthAdjust="spacingAndGlyphs" transform="rotate(-90 469.55 760.2)">SVC</text>
<text x="489.1" y="760.2" font-size="11.3" fill="#1e1e1e" text-anchor="end" textLength="15" lengthAdjust="spacingAndGlyphs" transform="rotate(-90 489.1 760.2)">GP</text>
<text x="508.65" y="760.2" font-size="11.3" fill="#1e1e1e" text-anchor="end" textLength="22.7" lengthAdjust="spacingAndGlyphs" transform="rotate(-90 508.65 760.2)">MLP</text>
<text x="528.2" y="760.2" font-size="11.3" fill="#1e1e1e" text-anchor="end" textLength="22.7" lengthAdjust="spacingAndGlyphs" transform="rotate(-90 528.2 760.2)">ELM</text>
<line x1="558.5" y1="689.1" x2="558.5" y2="746.5" stroke="#6a6a6a" stroke-width="1.2"/>
<line x1="551.8" y1="691.7" x2="558.5" y2="691.7" stroke="#3a3a3a" stroke-width="1"/>
<line x1="551.8" y1="719.1" x2="558.5" y2="719.1" stroke="#3a3a3a" stroke-width="1"/>
<line x1="551.8" y1="746.5" x2="558.5" y2="746.5" stroke="#3a3a3a" stroke-width="1"/>
<rect x="563.6" y="705.02" width="10.2" height="41.48" fill="#5b7fb0" stroke="#1e2a3a" stroke-width="0.8"/>
<rect x="583.15" y="719.1" width="10.2" height="27.4" fill="#5b7fb0" stroke="#1e2a3a" stroke-width="0.8"/>
<rect x="602.7" y="700.08" width="10.2" height="46.42" fill="#5b7fb0" stroke="#1e2a3a" stroke-width="0.8"/>
<rect x="622.25" y="719.1" width="10.2" height="27.4" fill="#5b7fb0" stroke="#1e2a3a" stroke-width="0.8"/>
<rect x="641.8" y="697.73" width="10.2" height="48.77" fill="#5b7fb0" stroke="#1e2a3a" stroke-width="0.8"/>
<rect x="661.35" y="699.54" width="10.2" height="46.96" fill="#5b7fb0" stroke="#1e2a3a" stroke-width="0.8"/>
<line x1="558.5" y1="746.5" x2="676.9" y2="746.5" stroke="#3a3a3a" stroke-width="1.1"/>
<line x1="568.7" y1="746.5" x2="568.7" y2="753.3" stroke="#3a3a3a" stroke-width="1"/>
<line x1="588.25" y1="746.5" x2="588.25" y2="753.3" stroke="#3a3a3a" stroke-width="1"/>
<line x1="607.8" y1="746.5" x2="607.8" y2="753.3" stroke="#3a3a3a" stroke-width="1"/>
<line x1="627.35" y1="746.5" x2="627.35" y2="753.3" stroke="#3a3a3a" stroke-width="1"/>
<line x1="646.9" y1="746.5" x2="646.9" y2="753.3" stroke="#3a3a3a" stroke-width="1"/>
<line x1="666.45" y1="746.5" x2="666.45" y2="753.3" stroke="#3a3a3a" stroke-width="1"/>
<line x1="558.5" y1="705.02" x2="676.9" y2="705.02" stroke="#6a6a6a" stroke-width="1.4" stroke-dasharray="5.2,3"/>
<circle cx="568.7" cy="705.02" r="2.3" fill="#000" stroke="none" stroke-width="1"/>
<circle cx="588.25" cy="719.1" r="2.3" fill="#000" stroke="none" stroke-width="1"/>
<circle cx="607.8" cy="700.08" r="2.3" fill="#000" stroke="none" stroke-width="1"/>
<circle cx="627.35" cy="719.1" r="2.3" fill="#000" stroke="none" stroke-width="1"/>
<circle cx="646.9" cy="697.73" r="2.3" fill="#000" stroke="none" stroke-width="1"/>
<circle cx="666.45" cy="699.54" r="2.3" fill="#000" stroke="none" stroke-width="1"/>
<text x="572.75" y="760.2" font-size="11.3" fill="#1e1e1e" text-anchor="end" textLength="22" lengthAdjust="spacingAndGlyphs" transform="rotate(-90 572.75 760.2)">ERC</text>
<text x="592.3" y="760.2" font-size="11.3" fill="#1e1e1e" text-anchor="end" textLength="30.3" lengthAdjust="spacingAndGlyphs" transform="rotate(-90 592.3 760.2)">LSVC</text>
<text x="611.85" y="760.2" font-size="11.3" fill="#1e1e1e" text-anchor="end" textLength="23.8" lengthAdjust="spacingAndGlyphs" transform="rotate(-90 611.85 760.2)">SVC</text>
<text x="631.4" y="760.2" font-size="11.3" fill="#1e1e1e" text-anchor="end" textLength="15" lengthAdjust="spacingAndGlyphs" transform="rotate(-90 631.4 760.2)">GP</text>
<text x="650.95" y="760.2" font-size="11.3" fill="#1e1e1e" text-anchor="end" textLength="22.7" lengthAdjust="spacingAndGlyphs" transform="rotate(-90 650.95 760.2)">MLP</text>
<text x="670.5" y="760.2" font-size="11.3" fill="#1e1e1e" text-anchor="end" textLength="22.7" lengthAdjust="spacingAndGlyphs" transform="rotate(-90 670.5 760.2)">ELM</text>
<text x="261" y="696.3" font-size="10.5" fill="#1e1e1e" text-anchor="end">1.0</text>
<text x="261" y="723.7" font-size="10.5" fill="#1e1e1e" text-anchor="end">0.5</text>
<text x="261" y="751.1" font-size="10.5" fill="#1e1e1e" text-anchor="end">0</text>
<text x="227.9" y="456.5" font-size="12.6" fill="#1e1e1e" text-anchor="middle" textLength="36.2" lengthAdjust="spacingAndGlyphs" transform="rotate(-90 227.9 456.5)"><tspan font-style="italic">Φ</tspan> acc.</text>
<text x="227.9" y="717.2" font-size="12.6" fill="#1e1e1e" text-anchor="middle" textLength="36.2" lengthAdjust="spacingAndGlyphs" transform="rotate(-90 227.9 717.2)"><tspan font-style="italic">Φ</tspan> acc.</text>
<text x="74.4" y="94.8" font-size="12.4" fill="#1e1e1e" text-anchor="middle" textLength="35.9" lengthAdjust="spacingAndGlyphs">Inputs</text>
<rect x="26.5" y="102.5" width="93" height="92" fill="#fff" stroke="#555" stroke-width="1"/>
<circle cx="30.3" cy="106.4" r="3.35" fill="#a2c290" stroke="none" stroke-width="1"/>
<circle cx="48.1" cy="106.75" r="3.35" fill="#a2c290" stroke="none" stroke-width="1"/>
<circle cx="58.6" cy="106.4" r="3.35" fill="#a2c290" stroke="none" stroke-width="1"/>
<circle cx="86.72" cy="106.4" r="3.35" fill="#a2c290" stroke="none" stroke-width="1"/>
<circle cx="115.2" cy="106.4" r="3.35" fill="#a2c290" stroke="none" stroke-width="1"/>
<circle cx="76.4" cy="109.88" r="3.35" fill="#a2c290" stroke="none" stroke-width="1"/>
<circle cx="92.42" cy="110.4" r="3.35" fill="#a2c290" stroke="none" stroke-width="1"/>
<circle cx="32.26" cy="114.05" r="3.35" fill="#a2c290" stroke="none" stroke-width="1"/>
<circle cx="112.17" cy="113.36" r="3.35" fill="#a2c290" stroke="none" stroke-width="1"/>
<circle cx="69.64" cy="116.31" r="3.35" fill="#a2c290" stroke="none" stroke-width="1"/>
<circle cx="59.13" cy="118.57" r="3.35" fill="#a2c290" stroke="none" stroke-width="1"/>
<circle cx="100.07" cy="118.57" r="3.35" fill="#a2c290" stroke="none" stroke-width="1"/>
<circle cx="44.36" cy="121.88" r="3.35" fill="#a2c290" stroke="none" stroke-width="1"/>
<circle cx="87.26" cy="122.75" r="3.35" fill="#a2c290" stroke="none" stroke-width="1"/>
<circle cx="73.73" cy="125.7" r="3.35" fill="#a2c290" stroke="none" stroke-width="1"/>
<circle cx="103.1" cy="126.23" r="3.35" fill="#a2c290" stroke="none" stroke-width="1"/>
<circle cx="54.33" cy="127.79" r="3.35" fill="#a2c290" stroke="none" stroke-width="1"/>
<circle cx="42.4" cy="129.88" r="3.35" fill="#a2c290" stroke="none" stroke-width="1"/>
<circle cx="83.34" cy="132.66" r="3.35" fill="#a2c290" stroke="none" stroke-width="1"/>
<circle cx="86.72" cy="134.4" r="3.35" fill="#a2c290" stroke="none" stroke-width="1"/>
<circle cx="30.3" cy="134.57" r="3.35" fill="#a2c290" stroke="none" stroke-width="1"/>
<circle cx="36.17" cy="136.49" r="3.35" fill="#a2c290" stroke="none" stroke-width="1"/>
<circle cx="58.6" cy="134.57" r="3.35" fill="#a2c290" stroke="none" stroke-width="1"/>
<circle cx="62.87" cy="134.75" r="3.35" fill="#a2c290" stroke="none" stroke-width="1"/>
<circle cx="109.68" cy="133.88" r="3.35" fill="#a2c290" stroke="none" stroke-width="1"/>
<circle cx="115.2" cy="134.57" r="3.35" fill="#a2c290" stroke="none" stroke-width="1"/>
<circle cx="98.47" cy="138.05" r="3.35" fill="#a2c290" stroke="none" stroke-width="1"/>
<circle cx="68.21" cy="140.31" r="3.35" fill="#a2c290" stroke="none" stroke-width="1"/>
<circle cx="50.41" cy="142.05" r="3.35" fill="#a2c290" stroke="none" stroke-width="1"/>
<circle cx="82.81" cy="145.7" r="3.35" fill="#a2c290" stroke="none" stroke-width="1"/>
<circle cx="90.99" cy="144.49" r="3.35" fill="#a2c290" stroke="none" stroke-width="1"/>
<circle cx="40.45" cy="148.49" r="3.35" fill="#a2c290" stroke="none" stroke-width="1"/>
<circle cx="107.19" cy="149.88" r="3.35" fill="#a2c290" stroke="none" stroke-width="1"/>
<circle cx="55.04" cy="152.14" r="3.35" fill="#a2c290" stroke="none" stroke-width="1"/>
<circle cx="61.63" cy="151.27" r="3.35" fill="#a2c290" stroke="none" stroke-width="1"/>
<circle cx="65.9" cy="157.01" r="3.35" fill="#a2c290" stroke="none" stroke-width="1"/>
<circle cx="95.62" cy="155.1" r="3.35" fill="#a2c290" stroke="none" stroke-width="1"/>
<circle cx="30.3" cy="162.4" r="3.35" fill="#a2c290" stroke="none" stroke-width="1"/>
<circle cx="58.6" cy="162.4" r="3.35" fill="#a2c290" stroke="none" stroke-width="1"/>
<circle cx="81.2" cy="161.53" r="3.35" fill="#a2c290" stroke="none" stroke-width="1"/>
<circle cx="86.54" cy="162.57" r="3.35" fill="#a2c290" stroke="none" stroke-width="1"/>
<circle cx="89.75" cy="163.27" r="3.35" fill="#a2c290" stroke="none" stroke-width="1"/>
<circle cx="115.2" cy="162.4" r="3.35" fill="#a2c290" stroke="none" stroke-width="1"/>
<circle cx="37.95" cy="165.36" r="3.35" fill="#a2c290" stroke="none" stroke-width="1"/>
<circle cx="71.42" cy="166.4" r="3.35" fill="#a2c290" stroke="none" stroke-width="1"/>
<circle cx="52.9" cy="169.7" r="3.35" fill="#a2c290" stroke="none" stroke-width="1"/>
<circle cx="57.71" cy="173.18" r="3.35" fill="#a2c290" stroke="none" stroke-width="1"/>
<circle cx="105.41" cy="169.01" r="3.35" fill="#a2c290" stroke="none" stroke-width="1"/>
<circle cx="79.07" cy="172.83" r="3.35" fill="#a2c290" stroke="none" stroke-width="1"/>
<circle cx="34.57" cy="177.88" r="3.35" fill="#a2c290" stroke="none" stroke-width="1"/>
<circle cx="94.91" cy="176.14" r="3.35" fill="#a2c290" stroke="none" stroke-width="1"/>
<circle cx="86.19" cy="179.1" r="3.35" fill="#a2c290" stroke="none" stroke-width="1"/>
<circle cx="47.56" cy="180.49" r="3.35" fill="#a2c290" stroke="none" stroke-width="1"/>
<circle cx="110.04" cy="181.7" r="3.35" fill="#a2c290" stroke="none" stroke-width="1"/>
<circle cx="45.43" cy="187.62" r="3.35" fill="#a2c290" stroke="none" stroke-width="1"/>
<circle cx="64.83" cy="184.83" r="3.35" fill="#a2c290" stroke="none" stroke-width="1"/>
<circle cx="76.22" cy="186.57" r="3.35" fill="#a2c290" stroke="none" stroke-width="1"/>
<circle cx="30.3" cy="190.4" r="3.35" fill="#a2c290" stroke="none" stroke-width="1"/>
<circle cx="58.6" cy="190.4" r="3.35" fill="#a2c290" stroke="none" stroke-width="1"/>
<circle cx="86.72" cy="190.4" r="3.35" fill="#a2c290" stroke="none" stroke-width="1"/>
<circle cx="101.49" cy="189.88" r="3.35" fill="#a2c290" stroke="none" stroke-width="1"/>
<circle cx="115.2" cy="190.4" r="3.35" fill="#a2c290" stroke="none" stroke-width="1"/>
<line x1="19.2" y1="106.4" x2="26.6" y2="106.4" stroke="#555" stroke-width="1"/>
<text x="13.8" y="110" font-size="10" fill="#1e1e1e" text-anchor="end">1</text>
<line x1="19.2" y1="190.4" x2="26.6" y2="190.4" stroke="#555" stroke-width="1"/>
<text x="13.8" y="194" font-size="10" fill="#1e1e1e" text-anchor="end">0</text>
<line x1="30.4" y1="194.4" x2="30.4" y2="201.2" stroke="#555" stroke-width="1"/>
<text x="30.4" y="215.4" font-size="10" fill="#1e1e1e" text-anchor="middle">0</text>
<line x1="115.2" y1="194.4" x2="115.2" y2="201.2" stroke="#555" stroke-width="1"/>
<text x="115.2" y="215.4" font-size="10" fill="#1e1e1e" text-anchor="middle">1</text>
<g transform="translate(66.8,217)"><text x="0" y="0" font-size="12.4" fill="#1e1e1e" font-style="italic">U<tspan font-size="8.8" font-style="normal" fill="#555" style="stroke:none" dx="0.3" dy="2.9">1</tspan></text></g>
<g transform="translate(11,154.6) rotate(-90)"><text x="0" y="0" font-size="12.4" fill="#1e1e1e" font-style="italic">U<tspan font-size="8.8" font-style="normal" fill="#555" style="stroke:none" dx="0.3" dy="3.7">2</tspan></text></g>
<line x1="86.72" y1="134.4" x2="134.1" y2="134.4" stroke="#111" stroke-width="2"/>
<circle cx="86.72" cy="134.4" r="3.4" fill="#a2c290" stroke="#111" stroke-width="1.6"/>
<path d="M153.7,51.2 L134.1,51.2 L134.1,248.8 L153.7,248.8" fill="none" stroke="#111" stroke-width="2.2"/>
<rect x="167.2" y="51.8" width="36.6" height="92.2" fill="#e9ecf3" stroke="#111" stroke-width="1.7" rx="18.3"/>
<rect x="167.2" y="154" width="36.6" height="91.9" fill="#e9ecf3" stroke="#111" stroke-width="1.7" rx="18.3"/>
<text x="153.6" y="82.6" font-size="12.2" fill="#1e1e1e" text-anchor="middle" textLength="11.8" lengthAdjust="spacingAndGlyphs">S1</text>
<text x="153.6" y="126.7" font-size="12.2" fill="#1e1e1e" text-anchor="middle" textLength="11.8" lengthAdjust="spacingAndGlyphs">S2</text>
<text x="153.2" y="185.4" font-size="11.5" fill="#1e1e1e" text-anchor="middle">T</text>
<text x="153.4" y="225.8" font-size="12.2" fill="#1e1e1e" text-anchor="middle" textLength="15.4" lengthAdjust="spacingAndGlyphs">pH</text>
<circle cx="185.8" cy="76.4" r="13.6" fill="#fff" stroke="#111" stroke-width="1.2"/>
<circle cx="185.8" cy="119.8" r="13.6" fill="#fff" stroke="#111" stroke-width="1.2"/>
<path d="M178.6,68.7 L183.9,71.5 L184.4,73.5 L179.5,76.8 L177.6,81.7" fill="none" stroke="#0b1620" stroke-width="2.8" stroke-linecap="round" stroke-linejoin="round"/>
<circle cx="178.6" cy="68.7" r="0.7" fill="#4f9577"/>
<circle cx="180.15" cy="69.52" r="0.7" fill="#4f9577"/>
<circle cx="181.69" cy="70.33" r="0.7" fill="#4f9577"/>
<circle cx="183.24" cy="71.15" r="0.7" fill="#4f9577"/>
<circle cx="184.14" cy="72.48" r="0.7" fill="#4f9577"/>
<circle cx="183.82" cy="73.89" r="0.7" fill="#4f9577"/>
<circle cx="182.37" cy="74.87" r="0.7" fill="#4f9577"/>
<circle cx="180.92" cy="75.84" r="0.7" fill="#4f9577"/>
<circle cx="179.49" cy="76.83" r="0.7" fill="#4f9577"/>
<circle cx="178.85" cy="78.47" r="0.7" fill="#4f9577"/>
<circle cx="178.22" cy="80.1" r="0.7" fill="#4f9577"/>
<path d="M186.8,65.8 L188.7,69.6 L194,71.5 L195.4,74.4 L195,79.2 L192,82.1 L187.2,83.1 L182.9,86" fill="none" stroke="#0b1620" stroke-width="2.8" stroke-linecap="round" stroke-linejoin="round"/>
<circle cx="186.8" cy="65.8" r="0.7" fill="#2b5f9a"/>
<circle cx="187.58" cy="67.37" r="0.7" fill="#2b5f9a"/>
<circle cx="188.37" cy="68.93" r="0.7" fill="#2b5f9a"/>
<circle cx="189.64" cy="69.94" r="0.7" fill="#2b5f9a"/>
<circle cx="191.29" cy="70.53" r="0.7" fill="#2b5f9a"/>
<circle cx="192.94" cy="71.12" r="0.7" fill="#2b5f9a"/>
<circle cx="194.27" cy="72.06" r="0.7" fill="#2b5f9a"/>
<circle cx="195.03" cy="73.64" r="0.7" fill="#2b5f9a"/>
<circle cx="195.33" cy="75.3" r="0.7" fill="#2b5f9a"/>
<circle cx="195.18" cy="77.04" r="0.7" fill="#2b5f9a"/>
<circle cx="195.03" cy="78.79" r="0.7" fill="#2b5f9a"/>
<circle cx="194.04" cy="80.13" r="0.7" fill="#2b5f9a"/>
<circle cx="192.78" cy="81.34" r="0.7" fill="#2b5f9a"/>
<circle cx="191.35" cy="82.23" r="0.7" fill="#2b5f9a"/>
<circle cx="189.64" cy="82.59" r="0.7" fill="#2b5f9a"/>
<circle cx="187.93" cy="82.95" r="0.7" fill="#2b5f9a"/>
<circle cx="186.36" cy="83.66" r="0.7" fill="#2b5f9a"/>
<circle cx="184.91" cy="84.64" r="0.7" fill="#2b5f9a"/>
<circle cx="183.46" cy="85.62" r="0.7" fill="#2b5f9a"/>
<path d="M177.6,115.8 L180.5,112.9 L182,110.5 L186.8,110" fill="none" stroke="#0b1620" stroke-width="2.8" stroke-linecap="round" stroke-linejoin="round"/>
<circle cx="177.6" cy="115.8" r="0.7" fill="#4f9577"/>
<circle cx="178.84" cy="114.56" r="0.7" fill="#4f9577"/>
<circle cx="180.07" cy="113.33" r="0.7" fill="#4f9577"/>
<circle cx="181.11" cy="111.93" r="0.7" fill="#4f9577"/>
<circle cx="182.07" cy="110.49" r="0.7" fill="#4f9577"/>
<circle cx="183.81" cy="110.31" r="0.7" fill="#4f9577"/>
<circle cx="185.55" cy="110.13" r="0.7" fill="#4f9577"/>
<path d="M191.6,112 L193.5,115.3 L191.6,118.7 L188.7,120.6 L191.1,123" fill="none" stroke="#0b1620" stroke-width="2.8" stroke-linecap="round" stroke-linejoin="round"/>
<circle cx="191.6" cy="112" r="0.7" fill="#4f9577"/>
<circle cx="192.47" cy="113.52" r="0.7" fill="#4f9577"/>
<circle cx="193.35" cy="115.03" r="0.7" fill="#4f9577"/>
<circle cx="192.8" cy="116.56" r="0.7" fill="#4f9577"/>
<circle cx="191.94" cy="118.09" r="0.7" fill="#4f9577"/>
<circle cx="190.72" cy="119.27" r="0.7" fill="#4f9577"/>
<circle cx="189.26" cy="120.23" r="0.7" fill="#4f9577"/>
<circle cx="189.46" cy="121.36" r="0.7" fill="#4f9577"/>
<circle cx="190.7" cy="122.6" r="0.7" fill="#4f9577"/>
<path d="M176.2,121.6 L180.5,126.4 L184.4,124.5 L186.8,127.4 L187.7,131.2" fill="none" stroke="#0b1620" stroke-width="2.8" stroke-linecap="round" stroke-linejoin="round"/>
<circle cx="176.2" cy="121.6" r="0.7" fill="#2b5f9a"/>
<circle cx="177.37" cy="122.9" r="0.7" fill="#2b5f9a"/>
<circle cx="178.54" cy="124.21" r="0.7" fill="#2b5f9a"/>
<circle cx="179.7" cy="125.51" r="0.7" fill="#2b5f9a"/>
<circle cx="181" cy="126.16" r="0.7" fill="#2b5f9a"/>
<circle cx="182.57" cy="125.39" r="0.7" fill="#2b5f9a"/>
<circle cx="184.15" cy="124.62" r="0.7" fill="#2b5f9a"/>
<circle cx="185.34" cy="125.63" r="0.7" fill="#2b5f9a"/>
<circle cx="186.45" cy="126.98" r="0.7" fill="#2b5f9a"/>
<circle cx="187.08" cy="128.57" r="0.7" fill="#2b5f9a"/>
<circle cx="187.48" cy="130.27" r="0.7" fill="#2b5f9a"/>
<defs><linearGradient id="thg" x1="0" y1="0" x2="0" y2="1"><stop offset="0" stop-color="#f7c65a"/><stop offset="0.35" stop-color="#e9995a"/><stop offset="0.62" stop-color="#d0585a"/><stop offset="1" stop-color="#c84c5b"/></linearGradient><linearGradient id="drg" x1="0" y1="0" x2="0" y2="1"><stop offset="0" stop-color="#7cc3d4"/><stop offset="1" stop-color="#8bb8ad"/></linearGradient></defs>
<path d="M181.9,183.5 L181.9,165 A3.6,3.6 0 0 1 189.1,165 L189.1,183.5 A8.1,8.1 0 1 1 181.9,183.5 Z" fill="url(#thg)" stroke="none" stroke-width="0"/>
<rect x="182.5" y="161.8" width="6" height="9.6" fill="#fff"/>
<path d="M181.9,183.5 L181.9,165 A3.6,3.6 0 0 1 189.1,165 L189.1,183.5 A8.1,8.1 0 1 1 181.9,183.5 Z" fill="none" stroke="#111" stroke-width="1.5"/>
<path d="M185.4,204.3 C181.5,210.5 175.4,219.5 175.4,229.8 A10,10 0 0 0 195.4,229.8 C195.4,219.5 189.3,210.5 185.4,204.3 Z" fill="url(#drg)" stroke="#111" stroke-width="1.5"/>
<path d="M204,95.4 L211.2,95.4 L226.8,111.2" fill="none" stroke="#111" stroke-width="2"/>
<path d="M204,201.9 L210.6,201.9 L226.4,186.0" fill="none" stroke="#111" stroke-width="2"/>
<text x="260.9" y="90.5" font-size="12.3" fill="#1e1e1e" text-anchor="middle" textLength="52.8" lengthAdjust="spacingAndGlyphs">Reservoir</text>
<ellipse cx="262.05" cy="148.8" rx="52.7" ry="50.4" fill="#e9ecf3" stroke="none"/>
<clipPath id="resclip"><ellipse cx="262.05" cy="148.8" rx="51.6" ry="49.3"/></clipPath><g clip-path="url(#resclip)">
<path d="M238.4,110.38 L238.97,110.66 L239.45,110.45 L239.87,109.9 L240.34,109.63 L240.9,109.87 L241.47,110.18 L241.96,110.03 L242.38,109.49 L242.84,109.17 L243.39,109.37 L243.97,109.7 L244.47,109.61 L244.89,109.09 L245.34,108.71 L245.88,108.86 L246.47,109.21 L246.96,109.18 L247.41,108.71 L247.86,108.3 L248.39,108.4 L248.95,108.79 L249.47,108.84 L249.92,108.41 L250.37,107.96 L250.88,107.99 L251.45,108.36 L251.98,108.5 L252.43,108.11 L252.87,107.62 L253.38,107.58 L253.94,107.94 L254.48,108.14 L254.95,107.81 L255.43,107.59" fill="none" stroke="#0c1512" stroke-width="2.0" stroke-linecap="round" stroke-linejoin="round"/>
<path d="M238.4,110.38 L238.97,110.66 L239.45,110.45 L239.87,109.9 L240.34,109.63 L240.9,109.87 L241.47,110.18 L241.96,110.03 L242.38,109.49 L242.84,109.17 L243.39,109.37 L243.97,109.7 L244.47,109.61 L244.89,109.09 L245.34,108.71 L245.88,108.86 L246.47,109.21 L246.96,109.18 L247.41,108.71 L247.86,108.3 L248.39,108.4 L248.95,108.79 L249.47,108.84 L249.92,108.41 L250.37,107.96 L250.88,107.99 L251.45,108.36 L251.98,108.5 L252.43,108.11 L252.87,107.62 L253.38,107.58 L253.94,107.94 L254.48,108.14 L254.95,107.81 L255.43,107.59" fill="none" stroke="#2f6650" stroke-width="0.75" stroke-linecap="round" stroke-dasharray="0.01,1.5"/>
<path d="M267.81,104.19 L268.15,104.75 L268.71,104.81 L269.39,104.57 L269.92,104.71 L270.24,105.31 L270.6,105.82 L271.2,105.8 L271.87,105.58 L272.36,105.8 L272.67,106.44 L272.94,106.79 L273.57,106.94 L274.26,107.02 L274.55,107.5 L274.59,108.24 L274.9,108.7 L275.59,108.78 L276.21,108.94 L276.4,109.52 L276.46,110.23 L277.09,110.38" fill="none" stroke="#0c1512" stroke-width="2.0" stroke-linecap="round" stroke-linejoin="round"/>
<path d="M267.81,104.19 L268.15,104.75 L268.71,104.81 L269.39,104.57 L269.92,104.71 L270.24,105.31 L270.6,105.82 L271.2,105.8 L271.87,105.58 L272.36,105.8 L272.67,106.44 L272.94,106.79 L273.57,106.94 L274.26,107.02 L274.55,107.5 L274.59,108.24 L274.9,108.7 L275.59,108.78 L276.21,108.94 L276.4,109.52 L276.46,110.23 L277.09,110.38" fill="none" stroke="#2f6650" stroke-width="0.75" stroke-linecap="round" stroke-dasharray="0.01,1.5"/>
<path d="M222.93,124.31 L223.56,124.42 L223.96,124.06 L224.22,123.4 L224.61,123.04 L225.25,123.14 L225.88,123.25 L226.28,122.9 L226.54,122.25 L226.93,121.88 L227.57,121.98 L228.2,122.09 L228.61,121.74 L228.86,121.09 L229.26,120.71 L229.89,120.81 L230.52,120.93 L230.93,120.58 L231.19,119.93 L231.58,119.55 L232.22,119.65 L232.58,120.18 L233.11,120.23 L233.74,119.96 L234.29,119.95 L234.67,120.44 L235.03,120.99 L235.55,121.07 L236.18,120.79 L236.74,120.76 L237.12,121.23 L237.48,121.79 L237.98,121.9 L238.62,121.62 L239.18,121.57 L239.57,122.02 L239.92,122.6 L240.42,122.73 L241.05,122.46 L241.5,122.76" fill="none" stroke="#0c1512" stroke-width="2.0" stroke-linecap="round" stroke-linejoin="round"/>
<path d="M222.93,124.31 L223.56,124.42 L223.96,124.06 L224.22,123.4 L224.61,123.04 L225.25,123.14 L225.88,123.25 L226.28,122.9 L226.54,122.25 L226.93,121.88 L227.57,121.98 L228.2,122.09 L228.61,121.74 L228.86,121.09 L229.26,120.71 L229.89,120.81 L230.52,120.93 L230.93,120.58 L231.19,119.93 L231.58,119.55 L232.22,119.65 L232.58,120.18 L233.11,120.23 L233.74,119.96 L234.29,119.95 L234.67,120.44 L235.03,120.99 L235.55,121.07 L236.18,120.79 L236.74,120.76 L237.12,121.23 L237.48,121.79 L237.98,121.9 L238.62,121.62 L239.18,121.57 L239.57,122.02 L239.92,122.6 L240.42,122.73 L241.05,122.46 L241.5,122.76" fill="none" stroke="#2f6650" stroke-width="0.75" stroke-linecap="round" stroke-dasharray="0.01,1.5"/>
<path d="M262.39,118.89 L263.05,118.78 L263.3,118.25 L263.34,117.52 L263.7,117.11 L264.41,117.05 L264.99,116.85 L265.14,116.23 L265.23,115.54 L265.7,115.23 L266.38,115.23 L266.88,115.09 L267.13,114.53 L267.36,113.94 L267.83,113.75 L268.49,113.88 L269.04,113.82 L269.33,113.31 L269.53,112.69 L270.13,112.7" fill="none" stroke="#0c1512" stroke-width="2.0" stroke-linecap="round" stroke-linejoin="round"/>
<path d="M262.39,118.89 L263.05,118.78 L263.3,118.25 L263.34,117.52 L263.7,117.11 L264.41,117.05 L264.99,116.85 L265.14,116.23 L265.23,115.54 L265.7,115.23 L266.38,115.23 L266.88,115.09 L267.13,114.53 L267.36,113.94 L267.83,113.75 L268.49,113.88 L269.04,113.82 L269.33,113.31 L269.53,112.69 L270.13,112.7" fill="none" stroke="#2f6650" stroke-width="0.75" stroke-linecap="round" stroke-dasharray="0.01,1.5"/>
<path d="M259.29,126.63 L259.77,127.03 L260.28,126.95 L260.81,126.52 L261.32,126.34 L261.8,126.68 L262.28,127.13 L262.78,127.14 L263.31,126.74 L263.82,126.48 L264.31,126.73 L264.79,127.21 L265.28,127.32 L265.8,126.97 L266.32,126.63 L266.82,126.79 L267.29,127.27 L267.76,127.48 L268.31,127.21 L268.88,126.86 L269.39,127 L269.85,127.52 L270.34,127.79 L270.89,127.51 L271.46,127.16 L271.96,127.3 L272.43,127.82 L272.92,128.09 L273.47,127.82 L274.04,127.46 L274.54,127.59 L275.01,128.12 L275.5,128.39 L276.05,128.12 L276.62,127.76 L277.09,128.18" fill="none" stroke="#0c1512" stroke-width="2.0" stroke-linecap="round" stroke-linejoin="round"/>
<path d="M259.29,126.63 L259.77,127.03 L260.28,126.95 L260.81,126.52 L261.32,126.34 L261.8,126.68 L262.28,127.13 L262.78,127.14 L263.31,126.74 L263.82,126.48 L264.31,126.73 L264.79,127.21 L265.28,127.32 L265.8,126.97 L266.32,126.63 L266.82,126.79 L267.29,127.27 L267.76,127.48 L268.31,127.21 L268.88,126.86 L269.39,127 L269.85,127.52 L270.34,127.79 L270.89,127.51 L271.46,127.16 L271.96,127.3 L272.43,127.82 L272.92,128.09 L273.47,127.82 L274.04,127.46 L274.54,127.59 L275.01,128.12 L275.5,128.39 L276.05,128.12 L276.62,127.76 L277.09,128.18" fill="none" stroke="#2f6650" stroke-width="0.75" stroke-linecap="round" stroke-dasharray="0.01,1.5"/>
<path d="M295.66,130.5 L296.25,130.71 L296.7,130.45 L297.05,129.87 L297.48,129.54 L298.06,129.7 L298.66,129.96 L299.13,129.78 L299.49,129.21 L299.9,128.81 L300.46,128.91 L301.07,129.19 L301.56,129.09 L301.93,128.55 L302.32,128.09 L302.85,128.12 L303.4,128.18" fill="none" stroke="#0c1512" stroke-width="2.0" stroke-linecap="round" stroke-linejoin="round"/>
<path d="M295.66,130.5 L296.25,130.71 L296.7,130.45 L297.05,129.87 L297.48,129.54 L298.06,129.7 L298.66,129.96 L299.13,129.78 L299.49,129.21 L299.9,128.81 L300.46,128.91 L301.07,129.19 L301.56,129.09 L301.93,128.55 L302.32,128.09 L302.85,128.12 L303.4,128.18" fill="none" stroke="#2f6650" stroke-width="0.75" stroke-linecap="round" stroke-dasharray="0.01,1.5"/>
<path d="M301.85,133.59 L302.09,134.17 L302.57,134.33 L303.24,134.2 L303.77,134.28 L304.05,134.81 L304.26,135.43 L304.69,135.68 L305.34,135.57 L305.94,135.58 L306.24,136.08 L306.41,136.75 L306.82,137.08 L307.49,137.01 L308.09,137.05 L308.39,137.54 L308.56,138.21 L308.96,138.54 L309.59,138.54" fill="none" stroke="#0c1512" stroke-width="2.0" stroke-linecap="round" stroke-linejoin="round"/>
<path d="M301.85,133.59 L302.09,134.17 L302.57,134.33 L303.24,134.2 L303.77,134.28 L304.05,134.81 L304.26,135.43 L304.69,135.68 L305.34,135.57 L305.94,135.58 L306.24,136.08 L306.41,136.75 L306.82,137.08 L307.49,137.01 L308.09,137.05 L308.39,137.54 L308.56,138.21 L308.96,138.54 L309.59,138.54" fill="none" stroke="#2f6650" stroke-width="0.75" stroke-linecap="round" stroke-dasharray="0.01,1.5"/>
<path d="M216.74,143.65 L217.08,144.18 L217.6,144.25 L218.24,143.99 L218.78,144 L219.14,144.49 L219.47,145.05 L219.97,145.18 L220.6,144.93 L221.16,144.88 L221.54,145.33 L221.86,145.92 L222.34,146.1 L223.03,145.95 L223.42,146.41 L223.26,146.98 L222.92,147.58 L223.03,148.1 L223.57,148.53 L223.94,148.99 L223.75,149.56 L223.42,150.17 L223.56,150.67 L224.12,151.1 L224.45,151.57 L224.24,152.15 L223.92,152.75 L224.1,153.25 L224.65,153.64 L225.03,154.05 L224.91,154.66 L224.72,155.29 L224.99,155.75 L225.62,156.06 L226,156.47 L225.88,157.08 L225.69,157.71 L225.96,158.16 L226.59,158.47 L226.97,158.88 L226.84,159.5 L226.65,160.13 L226.93,160.58 L227.56,160.89 L227.57,161.45" fill="none" stroke="#0c1512" stroke-width="2.0" stroke-linecap="round" stroke-linejoin="round"/>
<path d="M216.74,143.65 L217.08,144.18 L217.6,144.25 L218.24,143.99 L218.78,144 L219.14,144.49 L219.47,145.05 L219.97,145.18 L220.6,144.93 L221.16,144.88 L221.54,145.33 L221.86,145.92 L222.34,146.1 L223.03,145.95 L223.42,146.41 L223.26,146.98 L222.92,147.58 L223.03,148.1 L223.57,148.53 L223.94,148.99 L223.75,149.56 L223.42,150.17 L223.56,150.67 L224.12,151.1 L224.45,151.57 L224.24,152.15 L223.92,152.75 L224.1,153.25 L224.65,153.64 L225.03,154.05 L224.91,154.66 L224.72,155.29 L224.99,155.75 L225.62,156.06 L226,156.47 L225.88,157.08 L225.69,157.71 L225.96,158.16 L226.59,158.47 L226.97,158.88 L226.84,159.5 L226.65,160.13 L226.93,160.58 L227.56,160.89 L227.57,161.45" fill="none" stroke="#2f6650" stroke-width="0.75" stroke-linecap="round" stroke-dasharray="0.01,1.5"/>
<path d="M235.31,141.64 L235.84,141.99 L236.35,141.83 L236.84,141.34 L237.35,141.15 L237.89,141.49 L238.42,141.86 L238.93,141.71 L239.42,141.22 L239.93,141.02 L240.46,141.35 L241,141.72 L241.51,141.6 L242,141.11 L242.51,140.89 L243.04,141.2 L243.58,141.59 L244.09,141.48 L244.58,140.99 L245.09,140.75 L245.62,141.06 L246.16,141.45 L246.67,141.36 L247.16,140.88 L247.64,140.63 L248.18,140.87 L248.74,141.24 L249.24,141.16 L249.7,140.66 L250.17,140.33 L250.71,140.52 L251.26,140.91 L251.78,140.89 L252.23,140.41 L252.7,140.03 L253.23,140.18 L253.79,140.58 L254.31,140.61 L254.77,140.16 L255.23,139.75 L255.76,139.84 L256.32,140.24 L256.84,140.33 L257.3,139.91 L257.76,139.46 L258.28,139.5 L258.84,139.9 L259.37,140.04 L259.84,139.67 L260.3,139.19 L260.84,139.47" fill="none" stroke="#0c1512" stroke-width="2.0" stroke-linecap="round" stroke-linejoin="round"/>
<path d="M235.31,141.64 L235.84,141.99 L236.35,141.83 L236.84,141.34 L237.35,141.15 L237.89,141.49 L238.42,141.86 L238.93,141.71 L239.42,141.22 L239.93,141.02 L240.46,141.35 L241,141.72 L241.51,141.6 L242,141.11 L242.51,140.89 L243.04,141.2 L243.58,141.59 L244.09,141.48 L244.58,140.99 L245.09,140.75 L245.62,141.06 L246.16,141.45 L246.67,141.36 L247.16,140.88 L247.64,140.63 L248.18,140.87 L248.74,141.24 L249.24,141.16 L249.7,140.66 L250.17,140.33 L250.71,140.52 L251.26,140.91 L251.78,140.89 L252.23,140.41 L252.7,140.03 L253.23,140.18 L253.79,140.58 L254.31,140.61 L254.77,140.16 L255.23,139.75 L255.76,139.84 L256.32,140.24 L256.84,140.33 L257.3,139.91 L257.76,139.46 L258.28,139.5 L258.84,139.9 L259.37,140.04 L259.84,139.67 L260.3,139.19 L260.84,139.47" fill="none" stroke="#2f6650" stroke-width="0.75" stroke-linecap="round" stroke-dasharray="0.01,1.5"/>
<path d="M281.73,144.43 L282.09,144.96 L282.62,145 L283.26,144.74 L283.8,144.76 L284.16,145.27 L284.51,145.82 L285.03,145.89 L285.67,145.63 L286.22,145.62 L286.59,146.11 L286.93,146.68 L287.44,146.79 L288.08,146.53 L288.64,146.49 L289.02,146.96 L289.2,147.41 L289.51,147.8 L290.16,147.95 L290.69,148.19 L290.79,148.74 L290.72,149.41 L290.97,149.85 L291.58,150.02 L292.16,150.22 L292.34,150.72 L292.27,151.39 L292.43,151.89 L293,152.09 L293.56,152.19 L293.93,152.59 L294.05,153.3 L294.35,153.77 L295,153.81 L295.66,153.84 L295.98,154.3 L296.09,155.01 L296.44,155.42 L297.12,155.43 L297.75,155.5 L298.03,156.01 L298.15,156.71 L298.52,157.04 L299.23,157.1 L299.81,157.3 L299.96,157.92 L300.04,158.61 L300.52,158.91 L301.25,158.95 L301.72,159.25 L301.85,159.9" fill="none" stroke="#0c1512" stroke-width="2.0" stroke-linecap="round" stroke-linejoin="round"/>
<path d="M281.73,144.43 L282.09,144.96 L282.62,145 L283.26,144.74 L283.8,144.76 L284.16,145.27 L284.51,145.82 L285.03,145.89 L285.67,145.63 L286.22,145.62 L286.59,146.11 L286.93,146.68 L287.44,146.79 L288.08,146.53 L288.64,146.49 L289.02,146.96 L289.2,147.41 L289.51,147.8 L290.16,147.95 L290.69,148.19 L290.79,148.74 L290.72,149.41 L290.97,149.85 L291.58,150.02 L292.16,150.22 L292.34,150.72 L292.27,151.39 L292.43,151.89 L293,152.09 L293.56,152.19 L293.93,152.59 L294.05,153.3 L294.35,153.77 L295,153.81 L295.66,153.84 L295.98,154.3 L296.09,155.01 L296.44,155.42 L297.12,155.43 L297.75,155.5 L298.03,156.01 L298.15,156.71 L298.52,157.04 L299.23,157.1 L299.81,157.3 L299.96,157.92 L300.04,158.61 L300.52,158.91 L301.25,158.95 L301.72,159.25 L301.85,159.9" fill="none" stroke="#2f6650" stroke-width="0.75" stroke-linecap="round" stroke-dasharray="0.01,1.5"/>
<path d="M260.07,147.21 L260.47,147.7 L261,147.7 L261.6,147.38 L262.14,147.33 L262.55,147.79 L262.95,148.3 L263.47,148.35 L264.07,148.03 L264.62,147.94 L265.02,148.45" fill="none" stroke="#0c1512" stroke-width="2.0" stroke-linecap="round" stroke-linejoin="round"/>
<path d="M260.07,147.21 L260.47,147.7 L261,147.7 L261.6,147.38 L262.14,147.33 L262.55,147.79 L262.95,148.3 L263.47,148.35 L264.07,148.03 L264.62,147.94 L265.02,148.45" fill="none" stroke="#2f6650" stroke-width="0.75" stroke-linecap="round" stroke-dasharray="0.01,1.5"/>
<path d="M264.71,149.84 L265.35,149.86 L265.7,149.45 L265.87,148.77 L266.22,148.36 L266.86,148.38 L267.5,148.4 L267.85,147.99 L268.02,147.31 L268.3,146.95 L268.97,146.83 L269.62,146.68 L269.83,146.13 L269.86,145.41 L270.23,145 L270.95,144.93 L271.21,144.43" fill="none" stroke="#0c1512" stroke-width="2.0" stroke-linecap="round" stroke-linejoin="round"/>
<path d="M264.71,149.84 L265.35,149.86 L265.7,149.45 L265.87,148.77 L266.22,148.36 L266.86,148.38 L267.5,148.4 L267.85,147.99 L268.02,147.31 L268.3,146.95 L268.97,146.83 L269.62,146.68 L269.83,146.13 L269.86,145.41 L270.23,145 L270.95,144.93 L271.21,144.43" fill="none" stroke="#2f6650" stroke-width="0.75" stroke-linecap="round" stroke-dasharray="0.01,1.5"/>
<path d="M220.61,165.32 L220.89,165.87 L221.39,165.99 L222.04,165.8 L222.58,165.84 L222.9,166.33 L223.17,166.93 L223.63,167.14 L224.26,166.97 L224.84,166.93 L225.19,167.36 L225.45,167.98 L226.02,167.95" fill="none" stroke="#0c1512" stroke-width="2.0" stroke-linecap="round" stroke-linejoin="round"/>
<path d="M220.61,165.32 L220.89,165.87 L221.39,165.99 L222.04,165.8 L222.58,165.84 L222.9,166.33 L223.17,166.93 L223.63,167.14 L224.26,166.97 L224.84,166.93 L225.19,167.36 L225.45,167.98 L226.02,167.95" fill="none" stroke="#2f6650" stroke-width="0.75" stroke-linecap="round" stroke-dasharray="0.01,1.5"/>
<path d="M219.83,172.59 L219.94,173.21 L220.38,173.47 L221.06,173.49 L221.56,173.69 L221.71,174.26 L221.79,174.91 L222.16,175.24 L222.82,175.28 L223.38,175.41 L223.59,175.93 L223.64,176.6 L223.95,177 L224.59,177.07 L225.19,177.15 L225.46,177.6 L225.51,178.28 L226.02,178.47" fill="none" stroke="#0c1512" stroke-width="2.0" stroke-linecap="round" stroke-linejoin="round"/>
<path d="M219.83,172.59 L219.94,173.21 L220.38,173.47 L221.06,173.49 L221.56,173.69 L221.71,174.26 L221.79,174.91 L222.16,175.24 L222.82,175.28 L223.38,175.41 L223.59,175.93 L223.64,176.6 L223.95,177 L224.59,177.07 L225.19,177.15 L225.46,177.6 L225.51,178.28 L226.02,178.47" fill="none" stroke="#2f6650" stroke-width="0.75" stroke-linecap="round" stroke-dasharray="0.01,1.5"/>
<path d="M229.12,174.14 L229.68,174.42 L230.16,174.21 L230.58,173.67 L231.05,173.4 L231.61,173.64 L232.19,173.96 L232.68,173.81 L233.1,173.27 L233.56,172.95 L234.11,173.15 L234.69,173.49 L235.19,173.4 L235.61,172.88 L236.06,172.51 L236.61,172.66 L237.19,173.01 L237.7,172.98 L238.13,172.49 L238.57,172.07 L239.1,172.17 L239.64,172.28" fill="none" stroke="#0c1512" stroke-width="2.0" stroke-linecap="round" stroke-linejoin="round"/>
<path d="M229.12,174.14 L229.68,174.42 L230.16,174.21 L230.58,173.67 L231.05,173.4 L231.61,173.64 L232.19,173.96 L232.68,173.81 L233.1,173.27 L233.56,172.95 L234.11,173.15 L234.69,173.49 L235.19,173.4 L235.61,172.88 L236.06,172.51 L236.61,172.66 L237.19,173.01 L237.7,172.98 L238.13,172.49 L238.57,172.07 L239.1,172.17 L239.64,172.28" fill="none" stroke="#2f6650" stroke-width="0.75" stroke-linecap="round" stroke-dasharray="0.01,1.5"/>
<path d="M237.63,166.09 L237.88,166.7 L238.42,166.84 L239.12,166.72 L239.63,166.92 L239.85,167.56 L240.13,168.13 L240.7,168.21 L241.4,168.1 L241.87,168.36 L242.08,169.03 L242.38,169.55 L242.95,169.52 L243.52,169.88 L243.65,170.38 L243.38,171 L243.28,171.58 L243.7,171.98 L244.28,172.34 L244.45,172.83 L244.18,173.45 L244.06,174.03 L244.45,174.44 L245.03,174.8 L245.15,175.13 L245.21,175.78 L245.34,176.37 L245.83,176.59 L246.51,176.62 L246.95,176.89 L247.05,177.51 L247.14,178.14 L247.57,178.42 L248.25,178.45 L248.75,178.67 L248.89,179.25 L248.95,179.9 L249.54,180.02" fill="none" stroke="#0c1512" stroke-width="2.0" stroke-linecap="round" stroke-linejoin="round"/>
<path d="M237.63,166.09 L237.88,166.7 L238.42,166.84 L239.12,166.72 L239.63,166.92 L239.85,167.56 L240.13,168.13 L240.7,168.21 L241.4,168.1 L241.87,168.36 L242.08,169.03 L242.38,169.55 L242.95,169.52 L243.52,169.88 L243.65,170.38 L243.38,171 L243.28,171.58 L243.7,171.98 L244.28,172.34 L244.45,172.83 L244.18,173.45 L244.06,174.03 L244.45,174.44 L245.03,174.8 L245.15,175.13 L245.21,175.78 L245.34,176.37 L245.83,176.59 L246.51,176.62 L246.95,176.89 L247.05,177.51 L247.14,178.14 L247.57,178.42 L248.25,178.45 L248.75,178.67 L248.89,179.25 L248.95,179.9 L249.54,180.02" fill="none" stroke="#2f6650" stroke-width="0.75" stroke-linecap="round" stroke-dasharray="0.01,1.5"/>
<path d="M249.54,164.54 L249.42,165.17 L249.77,165.58 L250.41,165.84 L250.78,166.23 L250.68,166.85 L250.54,167.49 L250.85,167.91 L251.49,168.17 L251.89,168.55 L251.81,169.16 L251.65,169.8 L251.94,170.24 L252.57,170.5 L252.64,171.04" fill="none" stroke="#0c1512" stroke-width="2.0" stroke-linecap="round" stroke-linejoin="round"/>
<path d="M249.54,164.54 L249.42,165.17 L249.77,165.58 L250.41,165.84 L250.78,166.23 L250.68,166.85 L250.54,167.49 L250.85,167.91 L251.49,168.17 L251.89,168.55 L251.81,169.16 L251.65,169.8 L251.94,170.24 L252.57,170.5 L252.64,171.04" fill="none" stroke="#2f6650" stroke-width="0.75" stroke-linecap="round" stroke-dasharray="0.01,1.5"/>
<path d="M263.16,174.6 L263.62,175.03 L264.13,174.98 L264.68,174.58 L265.2,174.43 L265.66,174.79 L266.11,175.26 L266.61,175.31 L267.15,174.95 L267.68,174.7 L268.16,174.97 L268.6,175.48 L269.09,175.63 L269.63,175.31 L270.22,175.01 L270.69,175.27 L271.07,175.85 L271.52,176.15 L272.11,175.94 L272.71,175.68 L273.18,175.91 L273.56,176.49 L274,176.82 L274.59,176.63 L275.19,176.36 L275.67,176.56 L276.05,177.13 L276.49,177.48 L277.09,177.23" fill="none" stroke="#0c1512" stroke-width="2.0" stroke-linecap="round" stroke-linejoin="round"/>
<path d="M263.16,174.6 L263.62,175.03 L264.13,174.98 L264.68,174.58 L265.2,174.43 L265.66,174.79 L266.11,175.26 L266.61,175.31 L267.15,174.95 L267.68,174.7 L268.16,174.97 L268.6,175.48 L269.09,175.63 L269.63,175.31 L270.22,175.01 L270.69,175.27 L271.07,175.85 L271.52,176.15 L272.11,175.94 L272.71,175.68 L273.18,175.91 L273.56,176.49 L274,176.82 L274.59,176.63 L275.19,176.36 L275.67,176.56 L276.05,177.13 L276.49,177.48 L277.09,177.23" fill="none" stroke="#2f6650" stroke-width="0.75" stroke-linecap="round" stroke-dasharray="0.01,1.5"/>
<path d="M284.83,181.57 L285.32,181.98 L285.84,181.88 L286.39,181.45 L286.92,181.33 L287.41,181.74 L287.9,182.16 L288.42,182.07 L288.97,181.64 L289.5,181.51 L289.99,181.91 L290.48,182.34 L291,182.27 L291.55,181.84 L292.08,181.69 L292.57,182.08 L293.06,182.52 L293.58,182.46 L294.13,182.04 L294.66,181.87 L295.15,182.25 L295.66,182.34" fill="none" stroke="#0c1512" stroke-width="2.0" stroke-linecap="round" stroke-linejoin="round"/>
<path d="M284.83,181.57 L285.32,181.98 L285.84,181.88 L286.39,181.45 L286.92,181.33 L287.41,181.74 L287.9,182.16 L288.42,182.07 L288.97,181.64 L289.5,181.51 L289.99,181.91 L290.48,182.34 L291,182.27 L291.55,181.84 L292.08,181.69 L292.57,182.08 L293.06,182.52 L293.58,182.46 L294.13,182.04 L294.66,181.87 L295.15,182.25 L295.66,182.34" fill="none" stroke="#2f6650" stroke-width="0.75" stroke-linecap="round" stroke-dasharray="0.01,1.5"/>
<path d="M239.95,184.66 L240.36,185.18 L240.92,185.17 L241.58,184.86 L242.11,184.94 L242.5,185.52 L242.93,185.97 L243.53,185.86 L244.17,185.58 L244.68,185.76 L245.06,186.37 L245.51,186.74 L246.14,186.52" fill="none" stroke="#0c1512" stroke-width="2.0" stroke-linecap="round" stroke-linejoin="round"/>
<path d="M239.95,184.66 L240.36,185.18 L240.92,185.17 L241.58,184.86 L242.11,184.94 L242.5,185.52 L242.93,185.97 L243.53,185.86 L244.17,185.58 L244.68,185.76 L245.06,186.37 L245.51,186.74 L246.14,186.52" fill="none" stroke="#2f6650" stroke-width="0.75" stroke-linecap="round" stroke-dasharray="0.01,1.5"/>
<path d="M249.54,187.76 L249.5,188.41 L249.92,188.77 L250.61,188.97 L250.98,189.36 L250.91,190.03 L250.9,190.67 L251.37,191 L252.05,191.2 L252.37,191.63 L252.27,192.31 L252.64,192.71" fill="none" stroke="#0c1512" stroke-width="2.0" stroke-linecap="round" stroke-linejoin="round"/>
<path d="M249.54,187.76 L249.5,188.41 L249.92,188.77 L250.61,188.97 L250.98,189.36 L250.91,190.03 L250.9,190.67 L251.37,191 L252.05,191.2 L252.37,191.63 L252.27,192.31 L252.64,192.71" fill="none" stroke="#2f6650" stroke-width="0.75" stroke-linecap="round" stroke-dasharray="0.01,1.5"/>
<path d="M255.43,194.72 L255.91,195.14 L256.44,195.04 L256.99,194.62 L257.52,194.51 L258.01,194.92 L258.49,195.35 L259.02,195.27 L259.57,194.84 L260.1,194.72 L260.59,195.13 L261.07,195.56 L261.59,195.49 L262.15,195.07 L262.68,194.93 L263.17,195.33 L263.65,195.77 L264.17,195.71 L264.71,195.49" fill="none" stroke="#0c1512" stroke-width="2.0" stroke-linecap="round" stroke-linejoin="round"/>
<path d="M255.43,194.72 L255.91,195.14 L256.44,195.04 L256.99,194.62 L257.52,194.51 L258.01,194.92 L258.49,195.35 L259.02,195.27 L259.57,194.84 L260.1,194.72 L260.59,195.13 L261.07,195.56 L261.59,195.49 L262.15,195.07 L262.68,194.93 L263.17,195.33 L263.65,195.77 L264.17,195.71 L264.71,195.49" fill="none" stroke="#2f6650" stroke-width="0.75" stroke-linecap="round" stroke-dasharray="0.01,1.5"/>
<path d="M267.81,191.62 L268.26,192.09 L268.8,192.03 L269.39,191.66 L269.93,191.62 L270.38,192.09 L270.83,192.55 L271.38,192.47 L271.98,192.09 L272.51,192.07 L272.96,192.56 L273.41,193 L274,192.71" fill="none" stroke="#0c1512" stroke-width="2.0" stroke-linecap="round" stroke-linejoin="round"/>
<path d="M267.81,191.62 L268.26,192.09 L268.8,192.03 L269.39,191.66 L269.93,191.62 L270.38,192.09 L270.83,192.55 L271.38,192.47 L271.98,192.09 L272.51,192.07 L272.96,192.56 L273.41,193 L274,192.71" fill="none" stroke="#2f6650" stroke-width="0.75" stroke-linecap="round" stroke-dasharray="0.01,1.5"/>
<path d="M278.64,164.54 L279.04,165.07 L279.61,165.05 L280.26,164.74 L280.8,164.82 L281.19,165.4 L281.62,165.85 L282.21,165.74 L282.86,165.46 L283.37,165.65 L283.75,166.26 L284.2,166.62 L284.83,166.4" fill="none" stroke="#0c1512" stroke-width="2.0" stroke-linecap="round" stroke-linejoin="round"/>
<path d="M278.64,164.54 L279.04,165.07 L279.61,165.05 L280.26,164.74 L280.8,164.82 L281.19,165.4 L281.62,165.85 L282.21,165.74 L282.86,165.46 L283.37,165.65 L283.75,166.26 L284.2,166.62 L284.83,166.4" fill="none" stroke="#2f6650" stroke-width="0.75" stroke-linecap="round" stroke-dasharray="0.01,1.5"/>
<path d="M292.57,164.85 L292.9,165.44 L293.47,165.49 L294.18,165.28 L294.69,165.48 L294.99,166.13 L295.37,166.61 L296,166.54 L296.68,166.38 L297.13,166.72 L297.52,167.17" fill="none" stroke="#0c1512" stroke-width="2.0" stroke-linecap="round" stroke-linejoin="round"/>
<path d="M292.57,164.85 L292.9,165.44 L293.47,165.49 L294.18,165.28 L294.69,165.48 L294.99,166.13 L295.37,166.61 L296,166.54 L296.68,166.38 L297.13,166.72 L297.52,167.17" fill="none" stroke="#2f6650" stroke-width="0.75" stroke-linecap="round" stroke-dasharray="0.01,1.5"/>
<path d="M255.43,152.16 L255.38,152.82 L255.8,153.18 L256.49,153.38 L256.86,153.77 L256.79,154.44 L256.78,155.07 L257.25,155.41 L257.93,155.61 L258.25,156.03 L258.15,156.72 L258.52,157.11" fill="none" stroke="#0c1512" stroke-width="2.0" stroke-linecap="round" stroke-linejoin="round"/>
<path d="M255.43,152.16 L255.38,152.82 L255.8,153.18 L256.49,153.38 L256.86,153.77 L256.79,154.44 L256.78,155.07 L257.25,155.41 L257.93,155.61 L258.25,156.03 L258.15,156.72 L258.52,157.11" fill="none" stroke="#2f6650" stroke-width="0.75" stroke-linecap="round" stroke-dasharray="0.01,1.5"/>
<path d="M284.83,159.9 L284.83,160.54 L285.25,160.87 L285.94,161 L286.37,161.32 L286.39,161.95 L286.39,162.6 L286.79,162.94 L287.47,163.08 L287.61,163.61" fill="none" stroke="#0c1512" stroke-width="2.0" stroke-linecap="round" stroke-linejoin="round"/>
<path d="M284.83,159.9 L284.83,160.54 L285.25,160.87 L285.94,161 L286.37,161.32 L286.39,161.95 L286.39,162.6 L286.79,162.94 L287.47,163.08 L287.61,163.61" fill="none" stroke="#2f6650" stroke-width="0.75" stroke-linecap="round" stroke-dasharray="0.01,1.5"/>
<path d="M295.66,137.46 L295.63,138.09 L296.01,138.45 L296.67,138.61 L297.11,138.93 L297.12,139.54 L297.06,140.19 L297.38,140.58 L298.04,140.76 L298.53,141.04 L298.58,141.61 L298.76,142.1" fill="none" stroke="#0c1512" stroke-width="2.0" stroke-linecap="round" stroke-linejoin="round"/>
<path d="M295.66,137.46 L295.63,138.09 L296.01,138.45 L296.67,138.61 L297.11,138.93 L297.12,139.54 L297.06,140.19 L297.38,140.58 L298.04,140.76 L298.53,141.04 L298.58,141.61 L298.76,142.1" fill="none" stroke="#2f6650" stroke-width="0.75" stroke-linecap="round" stroke-dasharray="0.01,1.5"/>
<path d="M275.54,178.47 L276.11,178.78 L276.6,178.58 L277.06,178.04 L277.56,177.83 L278.12,178.15 L278.69,178.46 L279.18,178.25 L279.64,177.72 L280.14,177.51 L280.7,177.82 L281.26,178.14 L281.73,177.7" fill="none" stroke="#0c1512" stroke-width="2.0" stroke-linecap="round" stroke-linejoin="round"/>
<path d="M275.54,178.47 L276.11,178.78 L276.6,178.58 L277.06,178.04 L277.56,177.83 L278.12,178.15 L278.69,178.46 L279.18,178.25 L279.64,177.72 L280.14,177.51 L280.7,177.82 L281.26,178.14 L281.73,177.7" fill="none" stroke="#2f6650" stroke-width="0.75" stroke-linecap="round" stroke-dasharray="0.01,1.5"/>
<path d="M212.1,170.73 L212.44,171.28 L212.98,171.34 L213.63,171.09 L214.17,171.15 L214.51,171.7 L214.85,172.25 L215.39,172.3 L215.96,172.28" fill="none" stroke="#0c1512" stroke-width="2.0" stroke-linecap="round" stroke-linejoin="round"/>
<path d="M212.1,170.73 L212.44,171.28 L212.98,171.34 L213.63,171.09 L214.17,171.15 L214.51,171.7 L214.85,172.25 L215.39,172.3 L215.96,172.28" fill="none" stroke="#2f6650" stroke-width="0.75" stroke-linecap="round" stroke-dasharray="0.01,1.5"/>
<path d="M303.4,163 L303.61,163.59 L304.1,163.77 L304.78,163.67 L305.3,163.79 L305.54,164.35 L305.74,164.98 L306.19,165.21 L306.86,165.12 L307.42,165.2 L307.69,165.71 L308.04,166.09" fill="none" stroke="#0c1512" stroke-width="2.0" stroke-linecap="round" stroke-linejoin="round"/>
<path d="M303.4,163 L303.61,163.59 L304.1,163.77 L304.78,163.67 L305.3,163.79 L305.54,164.35 L305.74,164.98 L306.19,165.21 L306.86,165.12 L307.42,165.2 L307.69,165.71 L308.04,166.09" fill="none" stroke="#2f6650" stroke-width="0.75" stroke-linecap="round" stroke-dasharray="0.01,1.5"/>
<path d="M281.73,170.73 L282.13,171.27 L282.7,171.26 L283.37,170.98 L283.9,171.1 L284.28,171.7 L284.7,172.14 L285.32,172.02 L285.97,171.77 L286.38,172.28" fill="none" stroke="#0c1512" stroke-width="2.0" stroke-linecap="round" stroke-linejoin="round"/>
<path d="M281.73,170.73 L282.13,171.27 L282.7,171.26 L283.37,170.98 L283.9,171.1 L284.28,171.7 L284.7,172.14 L285.32,172.02 L285.97,171.77 L286.38,172.28" fill="none" stroke="#2f6650" stroke-width="0.75" stroke-linecap="round" stroke-dasharray="0.01,1.5"/>
<path d="M232.21,114.25 L232.84,114.41 L233.27,114.08 L233.58,113.45 L234.01,113.12 L234.63,113.29 L235.26,113.44 L235.68,113.11 L236.08,112.7" fill="none" stroke="#0c1512" stroke-width="2.0" stroke-linecap="round" stroke-linejoin="round"/>
<path d="M232.21,114.25 L232.84,114.41 L233.27,114.08 L233.58,113.45 L234.01,113.12 L234.63,113.29 L235.26,113.44 L235.68,113.11 L236.08,112.7" fill="none" stroke="#2f6650" stroke-width="0.75" stroke-linecap="round" stroke-dasharray="0.01,1.5"/>
<path d="M252.33,104.19 L252.92,104.46 L253.41,104.2 L253.83,103.64 L254.32,103.41 L254.92,103.7 L255.5,103.95 L255.98,103.66 L256.4,103.1 L256.9,102.91 L257.5,103.22 L258.08,103.44 L258.55,103.12 L258.98,102.56 L259.48,102.41 L260.07,102.64" fill="none" stroke="#0c1512" stroke-width="2.0" stroke-linecap="round" stroke-linejoin="round"/>
<path d="M252.33,104.19 L252.92,104.46 L253.41,104.2 L253.83,103.64 L254.32,103.41 L254.92,103.7 L255.5,103.95 L255.98,103.66 L256.4,103.1 L256.9,102.91 L257.5,103.22 L258.08,103.44 L258.55,103.12 L258.98,102.56 L259.48,102.41 L260.07,102.64" fill="none" stroke="#2f6650" stroke-width="0.75" stroke-linecap="round" stroke-dasharray="0.01,1.5"/>
<path d="M253.88,158.66 L253.89,159.29 L254.29,159.61 L254.95,159.73 L255.43,159.99 L255.5,160.58 L255.47,161.23 L255.79,161.62 L256.43,161.75 L256.98,161.96 L257.11,162.49 L257.28,163" fill="none" stroke="#0c1512" stroke-width="2.0" stroke-linecap="round" stroke-linejoin="round"/>
<path d="M253.88,158.66 L253.89,159.29 L254.29,159.61 L254.95,159.73 L255.43,159.99 L255.5,160.58 L255.47,161.23 L255.79,161.62 L256.43,161.75 L256.98,161.96 L257.11,162.49 L257.28,163" fill="none" stroke="#2f6650" stroke-width="0.75" stroke-linecap="round" stroke-dasharray="0.01,1.5"/>
<path d="M270.9,144.43 L270.37,144.8 L270.35,145.35 L270.64,146 L270.59,146.53 L270.05,146.91 L269.54,147.29 L269.54,147.84 L269.82,148.49 L269.76,149.02 L269.2,149.39 L268.7,149.77 L268.73,150.33 L269.01,150.98 L268.58,151.39" fill="none" stroke="#0c1512" stroke-width="2.0" stroke-linecap="round" stroke-linejoin="round"/>
<path d="M270.9,144.43 L270.37,144.8 L270.35,145.35 L270.64,146 L270.59,146.53 L270.05,146.91 L269.54,147.29 L269.54,147.84 L269.82,148.49 L269.76,149.02 L269.2,149.39 L268.7,149.77 L268.73,150.33 L269.01,150.98 L268.58,151.39" fill="none" stroke="#2f6650" stroke-width="0.75" stroke-linecap="round" stroke-dasharray="0.01,1.5"/>
<path d="M277.09,178.47 L277.03,179.09 L277.38,179.47 L278.03,179.66 L278.46,179.99 L278.46,180.57 L278.35,181.22 L278.62,181.65 L279.24,181.86 L279.41,182.34" fill="none" stroke="#0c1512" stroke-width="2.0" stroke-linecap="round" stroke-linejoin="round"/>
<path d="M277.09,178.47 L277.03,179.09 L277.38,179.47 L278.03,179.66 L278.46,179.99 L278.46,180.57 L278.35,181.22 L278.62,181.65 L279.24,181.86 L279.41,182.34" fill="none" stroke="#2f6650" stroke-width="0.75" stroke-linecap="round" stroke-dasharray="0.01,1.5"/>
<path d="M255.43,166.09 L255.64,166.68 L256.13,166.86 L256.8,166.76 L257.33,166.89 L257.57,167.45 L257.76,168.07 L258.21,168.31 L258.88,168.22 L259.45,168.29 L259.71,168.8 L260.07,169.19" fill="none" stroke="#0c1512" stroke-width="2.0" stroke-linecap="round" stroke-linejoin="round"/>
<path d="M255.43,166.09 L255.64,166.68 L256.13,166.86 L256.8,166.76 L257.33,166.89 L257.57,167.45 L257.76,168.07 L258.21,168.31 L258.88,168.22 L259.45,168.29 L259.71,168.8 L260.07,169.19" fill="none" stroke="#2f6650" stroke-width="0.75" stroke-linecap="round" stroke-dasharray="0.01,1.5"/>
<path d="M289.47,170.73 L289.66,171.38 L290.21,171.57 L290.95,171.53 L291.39,171.85 L291.53,172.56 L291.8,173.11 L292.45,173.18 L293.14,173.19 L293.34,173.83" fill="none" stroke="#0c1512" stroke-width="2.0" stroke-linecap="round" stroke-linejoin="round"/>
<path d="M289.47,170.73 L289.66,171.38 L290.21,171.57 L290.95,171.53 L291.39,171.85 L291.53,172.56 L291.8,173.11 L292.45,173.18 L293.14,173.19 L293.34,173.83" fill="none" stroke="#2f6650" stroke-width="0.75" stroke-linecap="round" stroke-dasharray="0.01,1.5"/>
<path d="M260.07,134.37 L260.07,135.01 L260.5,135.34 L261.19,135.48 L261.61,135.81 L261.62,136.46 L261.62,137.1 L262.05,137.43 L262.73,137.57 L263.16,137.9 L263.16,138.54" fill="none" stroke="#0c1512" stroke-width="2.0" stroke-linecap="round" stroke-linejoin="round"/>
<path d="M260.07,134.37 L260.07,135.01 L260.5,135.34 L261.19,135.48 L261.61,135.81 L261.62,136.46 L261.62,137.1 L262.05,137.43 L262.73,137.57 L263.16,137.9 L263.16,138.54" fill="none" stroke="#2f6650" stroke-width="0.75" stroke-linecap="round" stroke-dasharray="0.01,1.5"/>
<path d="M232.21,159.9 L232.4,160.55 L232.96,160.73 L233.69,160.7 L234.14,161.02 L234.27,161.73 L234.54,162.27 L235.19,162.34 L235.89,162.36 L236.08,163" fill="none" stroke="#0c1512" stroke-width="2.0" stroke-linecap="round" stroke-linejoin="round"/>
<path d="M232.21,159.9 L232.4,160.55 L232.96,160.73 L233.69,160.7 L234.14,161.02 L234.27,161.73 L234.54,162.27 L235.19,162.34 L235.89,162.36 L236.08,163" fill="none" stroke="#2f6650" stroke-width="0.75" stroke-linecap="round" stroke-dasharray="0.01,1.5"/>
<path d="M301.85,147.52 L301.96,148.18 L302.49,148.43 L303.22,148.47 L303.64,148.83 L303.69,149.55 L303.89,150.12 L304.51,150.28 L305.2,150.36 L305.51,150.83 L305.72,151.39" fill="none" stroke="#0c1512" stroke-width="2.0" stroke-linecap="round" stroke-linejoin="round"/>
<path d="M301.85,147.52 L301.96,148.18 L302.49,148.43 L303.22,148.47 L303.64,148.83 L303.69,149.55 L303.89,150.12 L304.51,150.28 L305.2,150.36 L305.51,150.83 L305.72,151.39" fill="none" stroke="#2f6650" stroke-width="0.75" stroke-linecap="round" stroke-dasharray="0.01,1.5"/>
<path d="M246.91,113.48 C238.4,132.05 244.59,156.81 264.71,166.86" fill="none" stroke="#111" stroke-width="1.35"/>
<line x1="263.82" y1="168.65" x2="265.6" y2="165.08" stroke="#111" stroke-width="1"/>
<path d="M226.02,144.43 Q233.76,138.24 234.53,125.08" fill="none" stroke="#111" stroke-width="1.35"/>
<path d="M234.53,125.08 L236.22,128.79 L232.43,128.56 Z" fill="#111"/>
<path d="M245.37,139.78 Q244.59,122.76 260.07,121.21" fill="none" stroke="#111" stroke-width="1.35"/>
<path d="M260.07,121.21 L256.67,123.46 L256.3,119.68 Z" fill="#111"/>
<path d="M268.58,137.46 C270.9,115.02 291.02,118.12 288.7,131.27" fill="none" stroke="#111" stroke-width="1.35"/>
<path d="M288.7,131.27 L287.45,127.4 L291.19,128.06 Z" fill="#111"/>
<path d="M267.5,133.9 L266.26,144.43" fill="none" stroke="#111" stroke-width="1.35"/>
<path d="M266.26,144.43 L264.79,140.63 L268.57,141.07 Z" fill="#111"/>
<path d="M275.54,138.54 C281.73,149.07 274,158.35 261.62,156.03" fill="none" stroke="#111" stroke-width="1.35"/>
<path d="M258.52,156.5 Q267.81,159.13 277.86,166.09" fill="none" stroke="#111" stroke-width="1.35"/>
<path d="M277.86,166.09 L273.82,165.6 L275.99,162.48 Z" fill="#111"/>
<path d="M267.81,149.07 Q281.73,154.48 295.97,161.76" fill="none" stroke="#111" stroke-width="1.35"/>
<path d="M295.97,161.76 L291.9,161.81 L293.63,158.43 Z" fill="#111"/>
<path d="M229.12,149.07 Q244.59,149.07 246.91,166.09" fill="none" stroke="#111" stroke-width="1.35"/>
<path d="M246.91,166.09 L244.54,162.78 L248.31,162.27 Z" fill="#111"/>
<path d="M240.72,152.16 L230.67,167.64" fill="none" stroke="#111" stroke-width="1.35"/>
<path d="M230.67,167.64 L231.03,163.58 L234.22,165.65 Z" fill="#111"/>
<path d="M236.86,167.64 Q253.88,170.73 254.65,187.76" fill="none" stroke="#111" stroke-width="1.35"/>
<path d="M254.65,187.76 L252.59,184.25 L256.39,184.07 Z" fill="#111"/>
<path d="M271.67,176.92 Q260.84,178.47 261.62,190.85" fill="none" stroke="#111" stroke-width="1.35"/>
<path d="M261.62,190.85 L259.49,187.38 L263.29,187.14 Z" fill="#111"/>
<path d="M288.7,140.56 Q289.47,133.59 298.76,133.28" fill="none" stroke="#111" stroke-width="1.35"/>
<path d="M298.76,133.28 L295.22,135.3 L295.09,131.5 Z" fill="#111"/>
<path d="M229.72,134.83 L231.88,133.57 A3.0,3.0 0 1 0 231.88,136.09 Z" fill="#8fcf84" stroke="#2a2a3a" stroke-width="0.6"/>
<path d="M251.69,130.81 L253.85,129.55 A3.0,3.0 0 1 0 253.85,132.07 Z" fill="#ec7878" stroke="#2a2a3a" stroke-width="0.6"/>
<path d="M272.27,135.14 L274.43,133.88 A3.0,3.0 0 1 0 274.43,136.4 Z" fill="#78b8a6" stroke="#2a2a3a" stroke-width="0.6"/>
<path d="M285.43,135.14 L287.59,133.88 A3.0,3.0 0 1 0 287.59,136.4 Z" fill="#a3a6ea" stroke="#2a2a3a" stroke-width="0.6"/>
<path d="M248.6,149.84 L250.76,148.58 A3.0,3.0 0 1 0 250.76,151.1 Z" fill="#c79ae8" stroke="#2a2a3a" stroke-width="0.6"/>
<path d="M232.81,152.94 L234.97,151.68 A3.0,3.0 0 1 0 234.97,154.2 Z" fill="#e9b878" stroke="#2a2a3a" stroke-width="0.6"/>
<path d="M280.79,159.13 L282.95,157.87 A3.0,3.0 0 1 0 282.95,160.39 Z" fill="#e9b878" stroke="#2a2a3a" stroke-width="0.6"/>
<path d="M269.18,167.64 L271.34,166.38 A3.0,3.0 0 1 0 271.34,168.9 Z" fill="#e36a6a" stroke="#2a2a3a" stroke-width="0.6"/>
<path d="M259.43,180.79 L261.59,179.53 A3.0,3.0 0 1 0 261.59,182.05 Z" fill="#eaa2d6" stroke="#2a2a3a" stroke-width="0.6"/>
<rect x="247.29" y="141.07" width="0.9" height="3" fill="#e04060"/>
<rect x="242.65" y="141.69" width="0.9" height="3" fill="#9a60e0"/>
<rect x="250.69" y="141.07" width="0.9" height="3" fill="#9a60e0"/>
<rect x="265.08" y="126.68" width="0.9" height="3" fill="#20a0a0"/>
<rect x="268.18" y="146.33" width="0.9" height="3" fill="#e09030"/>
<rect x="289.07" y="143.7" width="0.9" height="3" fill="#5070e0"/>
<rect x="293.71" y="149.89" width="0.9" height="3" fill="#5070e0"/>
<rect x="255.03" y="156.08" width="0.9" height="3" fill="#e04060"/>
<rect x="221.75" y="145.71" width="0.9" height="3" fill="#40c040"/>
<rect x="224.85" y="151.44" width="0.9" height="3" fill="#e09030"/>
<rect x="272.05" y="175.42" width="0.9" height="3" fill="#d070d0"/>
<rect x="242.65" y="166.91" width="0.9" height="3" fill="#d070d0"/>
</g>
<ellipse cx="262.05" cy="148.8" rx="52.7" ry="50.4" fill="none" stroke="#111" stroke-width="1.6"/>
<line x1="314.8" y1="145.9" x2="329.5" y2="145.9" stroke="#111" stroke-width="2"/>
<path d="M333,145.9 L327.5,142.6 L327.5,149.2 Z" fill="#111"/>
<rect x="335.5" y="76.1" width="17.2" height="11.69" fill="#2a4a8c" stroke="#1b2b3b" stroke-width="0.6"/>
<rect x="335.5" y="87.79" width="4.9" height="11.69" fill="#8ec78e" stroke="#1b2b3b" stroke-width="0.6"/>
<rect x="335.5" y="99.48" width="9.8" height="11.69" fill="#1f6892" stroke="#1b2b3b" stroke-width="0.6"/>
<rect x="335.5" y="111.17" width="5.9" height="11.69" fill="#2a4a8c" stroke="#1b2b3b" stroke-width="0.6"/>
<rect x="335.5" y="122.86" width="12.7" height="11.69" fill="#6cb98c" stroke="#1b2b3b" stroke-width="0.6"/>
<rect x="335.5" y="134.55" width="14.7" height="11.69" fill="#4a9e8e" stroke="#1b2b3b" stroke-width="0.6"/>
<rect x="335.5" y="146.24" width="25.5" height="11.69" fill="#24528f" stroke="#1b2b3b" stroke-width="0.6"/>
<rect x="335.5" y="157.93" width="8.8" height="11.69" fill="#8ec78e" stroke="#1b2b3b" stroke-width="0.6"/>
<rect x="335.5" y="169.62" width="12.7" height="11.69" fill="#4a9e8e" stroke="#1b2b3b" stroke-width="0.6"/>
<rect x="335.5" y="181.31" width="21" height="11.69" fill="#6cb98c" stroke="#1b2b3b" stroke-width="0.6"/>
<rect x="335.5" y="193" width="22.5" height="11.69" fill="#1f6892" stroke="#1b2b3b" stroke-width="0.6"/>
<line x1="335.5" y1="71.4" x2="335.5" y2="209" stroke="#222" stroke-width="1.1"/>
<path d="M384.1,81.8 L423.7,81.8 L468.5,139.9" fill="none" stroke="#111" stroke-width="1.55"/>
<path d="M387.4,93 L423.7,93 L468.5,139.9" fill="none" stroke="#111" stroke-width="1.55"/>
<path d="M384.1,104.6 L423.7,104.6 L468.5,139.9" fill="none" stroke="#111" stroke-width="1.55"/>
<path d="M413.4,115.9 L423.7,115.9 L468.5,139.9" fill="none" stroke="#111" stroke-width="1.55"/>
<path d="M399.4,127.7 L423.7,127.7 L468.5,139.9" fill="none" stroke="#111" stroke-width="1.55"/>
<path d="M384.1,139.4 L423.7,139.4 L468.5,139.9" fill="none" stroke="#111" stroke-width="1.55"/>
<path d="M384.1,151.2 L423.7,151.2 L468.5,139.9" fill="none" stroke="#111" stroke-width="1.55"/>
<path d="M389.5,162.5 L423.7,162.5 L468.5,139.9" fill="none" stroke="#111" stroke-width="1.55"/>
<path d="M398.7,174.7 L423.7,174.7 L468.5,139.9" fill="none" stroke="#111" stroke-width="1.55"/>
<path d="M404.5,186.5 L423.7,186.5 L468.5,139.9" fill="none" stroke="#111" stroke-width="1.55"/>
<path d="M384.1,198.7 L423.7,198.7 L468.5,139.9" fill="none" stroke="#111" stroke-width="1.55"/>
<rect x="373.4" y="76.3" width="10.7" height="11" fill="#d6dded" stroke="#111" stroke-width="1.2"/>
<rect x="384.1" y="87.8" width="3.3" height="10.4" fill="#d6dded" stroke="#111" stroke-width="1.2"/>
<rect x="377.5" y="99.2" width="6.6" height="10.8" fill="#d6dded" stroke="#111" stroke-width="1.2"/>
<rect x="384.1" y="110.6" width="29.3" height="10.6" fill="#d6dded" stroke="#111" stroke-width="1.2"/>
<rect x="384.1" y="122.4" width="15.3" height="10.6" fill="#d6dded" stroke="#111" stroke-width="1.2"/>
<rect x="374.5" y="134.1" width="9.6" height="10.6" fill="#d6dded" stroke="#111" stroke-width="1.2"/>
<rect x="366.3" y="145.9" width="17.8" height="10.6" fill="#d6dded" stroke="#111" stroke-width="1.2"/>
<rect x="384.1" y="157.2" width="5.4" height="10.6" fill="#d6dded" stroke="#111" stroke-width="1.2"/>
<rect x="384.1" y="169.4" width="14.6" height="10.6" fill="#d6dded" stroke="#111" stroke-width="1.2"/>
<rect x="384.1" y="181.2" width="20.4" height="10.6" fill="#d6dded" stroke="#111" stroke-width="1.2"/>
<rect x="376.4" y="193.3" width="7.7" height="10.8" fill="#d6dded" stroke="#111" stroke-width="1.2"/>
<line x1="384.1" y1="74.5" x2="384.1" y2="205" stroke="#111" stroke-width="1.5"/>
<line x1="468.5" y1="51.6" x2="468.5" y2="139.9" stroke="#111" stroke-width="1.9"/>
<circle cx="468.5" cy="139.9" r="14.3" fill="#e9ecf3" stroke="#111" stroke-width="1.8"/>
<text x="468.5" y="145.8" font-size="17.2" fill="#333" text-anchor="middle" textLength="7.6" lengthAdjust="spacingAndGlyphs">Σ</text>
<path d="M478.1,51.5 L382.3,51.5 L382.3,70" fill="none" stroke="#111" stroke-width="1.9"/>
<path d="M382.3,75 L379.3,68.5 L385.3,68.5 Z" fill="#111"/>
<text x="423.8" y="46.9" font-size="12.2" fill="#1e1e1e" text-anchor="middle" textLength="26.9" lengthAdjust="spacingAndGlyphs">Train</text>
<text x="514.5" y="9.5" font-size="12.2" fill="#1e1e1e" text-anchor="middle" textLength="34.5" lengthAdjust="spacingAndGlyphs">Target</text>
<rect x="478.8" y="15.5" width="70.4" height="70.3" fill="#8fb3dc" stroke="#111" stroke-width="1.5"/>
<circle cx="514.1" cy="50.6" r="20.9" fill="#d49a9d" stroke="none" stroke-width="1"/>
<path d="M482.8,139.9 L487.7,139.7 L517.6,112.9" fill="none" stroke="#111" stroke-width="2"/>
<path d="M487.7,139.7 L517.6,167.5" fill="none" stroke="#111" stroke-width="2"/>
<rect x="518" y="94.8" width="32" height="31.4" fill="#c25f69" stroke="#111" stroke-width="1.5"/>
<rect x="518" y="156.2" width="32" height="31.8" fill="#5b7fae" stroke="#111" stroke-width="1.5"/>
<text x="534.2" y="115" font-size="12.5" fill="#1a1a1a" text-anchor="middle">1</text>
<text x="534.2" y="176.5" font-size="12.5" fill="#1a1a1a" text-anchor="middle">0</text>
<text x="637.3" y="83.9" font-size="12.4" fill="#1e1e1e" text-anchor="middle" textLength="47.2" lengthAdjust="spacingAndGlyphs">Outputs</text>
<clipPath id="outclip"><rect x="590.4" y="89.4" width="93.6" height="93.2"/></clipPath>
<rect x="590.4" y="89.4" width="93.6" height="93.2" fill="#c6d7ee" stroke="none" stroke-width="1"/>
<circle cx="637" cy="135" r="33.2" fill="#ebcfd2" stroke="none" stroke-width="1"/>
<g clip-path="url(#outclip)">
<circle cx="590.4" cy="89.4" r="2.6" fill="#fff" stroke="#111" stroke-width="1.4"/>
<circle cx="610.02" cy="89.79" r="2.6" fill="#fff" stroke="#111" stroke-width="1.4"/>
<circle cx="621.6" cy="89.4" r="2.6" fill="#fff" stroke="#111" stroke-width="1.4"/>
<circle cx="652.6" cy="89.4" r="2.6" fill="#fff" stroke="#111" stroke-width="1.4"/>
<circle cx="684" cy="89.4" r="2.6" fill="#fff" stroke="#111" stroke-width="1.4"/>
<circle cx="641.22" cy="93.26" r="2.6" fill="#fff" stroke="#111" stroke-width="1.4"/>
<circle cx="658.88" cy="93.84" r="2.6" fill="#fff" stroke="#111" stroke-width="1.4"/>
<circle cx="592.56" cy="97.89" r="2.6" fill="#fff" stroke="#111" stroke-width="1.4"/>
<circle cx="680.66" cy="97.12" r="2.6" fill="#fff" stroke="#111" stroke-width="1.4"/>
<circle cx="633.77" cy="100.4" r="2.6" fill="#fff" stroke="#111" stroke-width="1.4"/>
<circle cx="622.19" cy="102.91" r="2.6" fill="#fff" stroke="#111" stroke-width="1.4"/>
<circle cx="667.32" cy="102.91" r="2.6" fill="#fff" stroke="#111" stroke-width="1.4"/>
<circle cx="605.9" cy="106.57" r="2.6" fill="#fff" stroke="#111" stroke-width="1.4"/>
<circle cx="653.19" cy="107.54" r="2.6" fill="#fff" stroke="#111" stroke-width="1.4"/>
<circle cx="638.28" cy="110.82" r="2.6" fill="#fff" stroke="#111" stroke-width="1.4"/>
<circle cx="670.66" cy="111.4" r="2.6" fill="#fff" stroke="#111" stroke-width="1.4"/>
<circle cx="616.89" cy="113.13" r="2.6" fill="#fff" stroke="#111" stroke-width="1.4"/>
<circle cx="603.74" cy="115.45" r="2.6" fill="#fff" stroke="#111" stroke-width="1.4"/>
<circle cx="648.88" cy="118.54" r="2.6" fill="#fff" stroke="#111" stroke-width="1.4"/>
<circle cx="652.6" cy="120.47" r="2.6" fill="#fff" stroke="#111" stroke-width="1.4"/>
<circle cx="590.4" cy="120.66" r="2.6" fill="#fff" stroke="#111" stroke-width="1.4"/>
<circle cx="596.88" cy="122.78" r="2.6" fill="#fff" stroke="#111" stroke-width="1.4"/>
<circle cx="621.6" cy="120.66" r="2.6" fill="#fff" stroke="#111" stroke-width="1.4"/>
<circle cx="626.31" cy="120.85" r="2.6" fill="#fff" stroke="#111" stroke-width="1.4"/>
<circle cx="677.92" cy="119.89" r="2.6" fill="#fff" stroke="#111" stroke-width="1.4"/>
<circle cx="684" cy="120.66" r="2.6" fill="#fff" stroke="#111" stroke-width="1.4"/>
<circle cx="665.55" cy="124.52" r="2.6" fill="#fff" stroke="#111" stroke-width="1.4"/>
<circle cx="632.2" cy="127.03" r="2.6" fill="#fff" stroke="#111" stroke-width="1.4"/>
<circle cx="612.57" cy="128.96" r="2.6" fill="#fff" stroke="#111" stroke-width="1.4"/>
<circle cx="648.29" cy="133.01" r="2.6" fill="#fff" stroke="#111" stroke-width="1.4"/>
<circle cx="657.31" cy="131.66" r="2.6" fill="#fff" stroke="#111" stroke-width="1.4"/>
<circle cx="601.58" cy="136.1" r="2.6" fill="#fff" stroke="#111" stroke-width="1.4"/>
<circle cx="675.17" cy="137.64" r="2.6" fill="#fff" stroke="#111" stroke-width="1.4"/>
<circle cx="617.68" cy="140.15" r="2.6" fill="#fff" stroke="#111" stroke-width="1.4"/>
<circle cx="624.94" cy="139.18" r="2.6" fill="#fff" stroke="#111" stroke-width="1.4"/>
<circle cx="629.65" cy="145.55" r="2.6" fill="#fff" stroke="#111" stroke-width="1.4"/>
<circle cx="662.42" cy="143.43" r="2.6" fill="#fff" stroke="#111" stroke-width="1.4"/>
<circle cx="590.4" cy="151.53" r="2.6" fill="#fff" stroke="#111" stroke-width="1.4"/>
<circle cx="621.6" cy="151.53" r="2.6" fill="#fff" stroke="#111" stroke-width="1.4"/>
<circle cx="646.52" cy="150.57" r="2.6" fill="#fff" stroke="#111" stroke-width="1.4"/>
<circle cx="652.41" cy="151.73" r="2.6" fill="#fff" stroke="#111" stroke-width="1.4"/>
<circle cx="655.94" cy="152.5" r="2.6" fill="#fff" stroke="#111" stroke-width="1.4"/>
<circle cx="684" cy="151.53" r="2.6" fill="#fff" stroke="#111" stroke-width="1.4"/>
<circle cx="598.84" cy="154.81" r="2.6" fill="#fff" stroke="#111" stroke-width="1.4"/>
<circle cx="635.73" cy="155.97" r="2.6" fill="#fff" stroke="#111" stroke-width="1.4"/>
<circle cx="615.32" cy="159.64" r="2.6" fill="#fff" stroke="#111" stroke-width="1.4"/>
<circle cx="620.62" cy="163.5" r="2.6" fill="#fff" stroke="#111" stroke-width="1.4"/>
<circle cx="673.21" cy="158.87" r="2.6" fill="#fff" stroke="#111" stroke-width="1.4"/>
<circle cx="644.17" cy="163.11" r="2.6" fill="#fff" stroke="#111" stroke-width="1.4"/>
<circle cx="595.11" cy="168.71" r="2.6" fill="#fff" stroke="#111" stroke-width="1.4"/>
<circle cx="661.63" cy="166.78" r="2.6" fill="#fff" stroke="#111" stroke-width="1.4"/>
<circle cx="652.02" cy="170.06" r="2.6" fill="#fff" stroke="#111" stroke-width="1.4"/>
<circle cx="609.43" cy="171.6" r="2.6" fill="#fff" stroke="#111" stroke-width="1.4"/>
<circle cx="678.31" cy="172.95" r="2.6" fill="#fff" stroke="#111" stroke-width="1.4"/>
<circle cx="607.08" cy="179.51" r="2.6" fill="#fff" stroke="#111" stroke-width="1.4"/>
<circle cx="628.47" cy="176.43" r="2.6" fill="#fff" stroke="#111" stroke-width="1.4"/>
<circle cx="641.03" cy="178.35" r="2.6" fill="#fff" stroke="#111" stroke-width="1.4"/>
<circle cx="590.4" cy="182.6" r="2.6" fill="#fff" stroke="#111" stroke-width="1.4"/>
<circle cx="621.6" cy="182.6" r="2.6" fill="#fff" stroke="#111" stroke-width="1.4"/>
<circle cx="652.6" cy="182.6" r="2.6" fill="#fff" stroke="#111" stroke-width="1.4"/>
<circle cx="668.89" cy="182.02" r="2.6" fill="#fff" stroke="#111" stroke-width="1.4"/>
<circle cx="684" cy="182.6" r="2.6" fill="#fff" stroke="#111" stroke-width="1.4"/>
</g>
<line x1="550.7" y1="119.9" x2="641" y2="119.9" stroke="#111" stroke-width="2" stroke-dasharray="3.6,2.1"/>
<path d="M645.5,119.9 L639.5,116.8 L639.5,123 Z" fill="#111"/>
<circle cx="652.6" cy="120.47" r="3.7" fill="#c25f69" stroke="#111" stroke-width="1.9"/>
<line x1="584.1" y1="89.4" x2="684.5" y2="89.4" stroke="#333" stroke-width="1.1"/>
<line x1="583.8" y1="182.6" x2="684.5" y2="182.6" stroke="#333" stroke-width="1.1"/>
<line x1="590.4" y1="89.4" x2="590.4" y2="189.2" stroke="#555" stroke-width="1"/>
<line x1="684.2" y1="89.4" x2="684.2" y2="189.2" stroke="#555" stroke-width="1.6"/>
<text x="577.5" y="93.5" font-size="10" fill="#1e1e1e" text-anchor="end">1</text>
<text x="577.5" y="186.2" font-size="10" fill="#1e1e1e" text-anchor="end">0</text>
<text x="591" y="202.9" font-size="10" fill="#1e1e1e" text-anchor="middle">0</text>
<text x="684.8" y="202.9" font-size="10" fill="#1e1e1e" text-anchor="middle">1</text>
<g transform="translate(630.8,202.9)"><text x="0" y="0" font-size="11.3" fill="#1e1e1e" font-style="italic">U<tspan font-size="8.2" font-style="normal" fill="#555" style="stroke:none" dx="0.3" dy="3.6">1</tspan></text></g>
<g transform="translate(577.1,142.2) rotate(-90)"><text x="0" y="0" font-size="11.3" fill="#1e1e1e" font-style="italic">U<tspan font-size="8.2" font-style="normal" fill="#555" style="stroke:none" dx="0.3" dy="4.2">2</tspan></text></g>
</svg>
</body></html>
